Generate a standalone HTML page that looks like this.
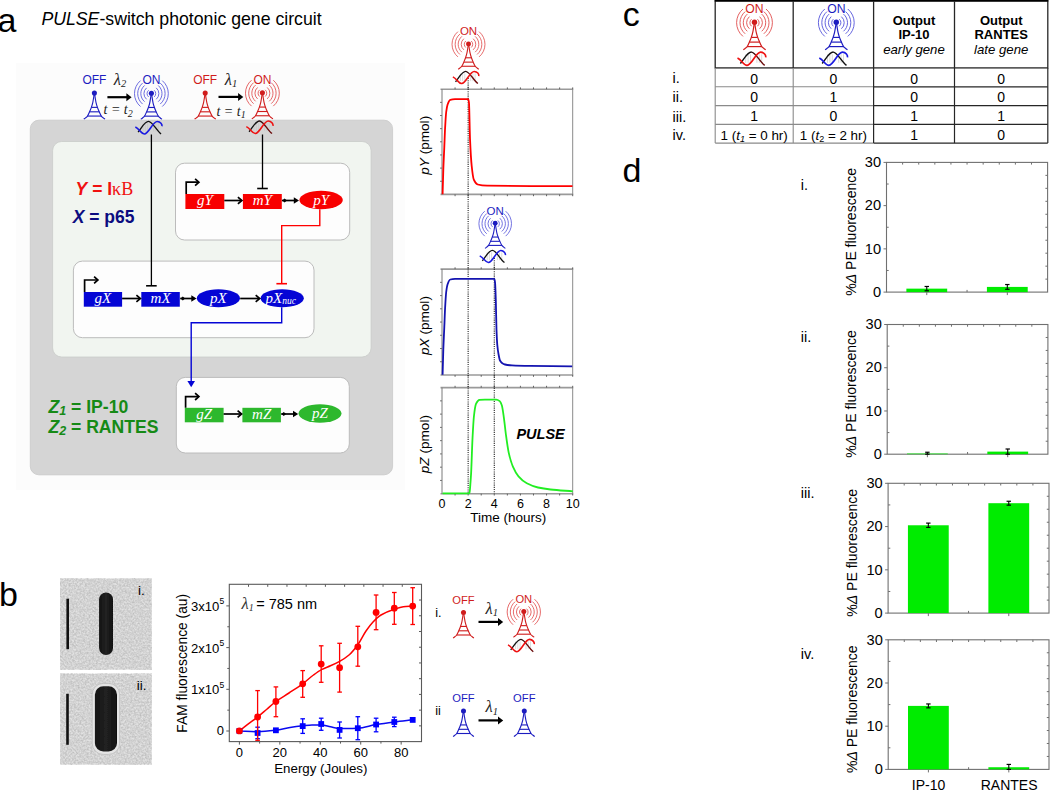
<!DOCTYPE html>
<html><head><meta charset="utf-8"><style>
html,body{margin:0;padding:0;background:#fff;overflow:hidden;}
svg{display:block;}
</style></head><body>
<svg width="1050" height="790" viewBox="0 0 1050 790">
<rect width="1050" height="790" fill="#fff"/>
<rect x="16" y="63" width="389" height="427" fill="#fcfcfc"/>
<text x="-2.6" y="31.6" font-family="Liberation Sans" font-size="34" fill="#000" text-anchor="start" font-weight="normal" font-style="normal" >a</text>
<text x="41.4" y="25" font-family="Liberation Sans" font-size="17.7" fill="#000"><tspan font-style="italic">PULSE</tspan>-switch photonic gene circuit</text>
<rect x="30.3" y="120.2" width="362.3" height="354.6" rx="8.5" fill="#d5d5d5" stroke="#c8c8c8" stroke-width="0.8"/>
<rect x="52.6" y="141.5" width="318.5" height="215.5" rx="9" fill="#f1f5f0" stroke="#c9ccc9" stroke-width="0.8"/>
<rect x="175.5" y="163.2" width="174.2" height="76.8" rx="9" fill="#fdfdfd" stroke="#bcbcbc" stroke-width="1"/>
<rect x="73.4" y="261.1" width="240.6" height="76.6" rx="9" fill="#fdfdfd" stroke="#bcbcbc" stroke-width="1"/>
<rect x="176.3" y="377.4" width="173" height="75.6" rx="9" fill="#fdfdfd" stroke="#bcbcbc" stroke-width="1"/>
<text x="75.6" y="195.3" font-family="Liberation Sans" font-size="17.5" font-weight="bold" fill="#f01010"><tspan font-style="italic">Y</tspan> = I<tspan font-family="Liberation Serif" font-weight="normal" font-size="18">κB</tspan></text>
<text x="72.7" y="223.2" font-family="Liberation Sans" font-size="17.5" font-weight="bold" fill="#0c0c80"><tspan font-style="italic">X</tspan> = p65</text>
<text x="48.4" y="412.6" font-family="Liberation Sans" font-size="17.6" font-weight="bold" fill="#168a16"><tspan font-style="italic">Z</tspan><tspan font-style="italic" font-size="12.5" dy="2.6">1</tspan><tspan dy="-2.6"> = IP-10</tspan></text>
<text x="48.4" y="432.8" font-family="Liberation Sans" font-size="17.6" font-weight="bold" fill="#168a16"><tspan font-style="italic">Z</tspan><tspan font-style="italic" font-size="12.5" dy="2.6">2</tspan><tspan dy="-2.6"> = RANTES</tspan></text>
<rect x="185.4" y="194" width="38.9" height="15" fill="#f80000"/>
<text x="204.85" y="205.4" font-family="Liberation Serif" font-style="italic" font-size="15" fill="#fff" text-anchor="middle">gY</text>
<rect x="242.9" y="194" width="38.9" height="15" fill="#f80000"/>
<text x="262.35" y="205.4" font-family="Liberation Serif" font-style="italic" font-size="15" fill="#fff" text-anchor="middle">mY</text>
<ellipse cx="321.1" cy="200" rx="21.7" ry="9.3" fill="#f80000"/>
<text x="321.1" y="204.6" font-family="Liberation Serif" font-style="italic" font-size="15" fill="#fff" text-anchor="middle">pY</text>
<line x1="224.3" y1="200.5" x2="241.5" y2="200.5" stroke="#000" stroke-width="1.7" />
<path d="M237.9,197.1 L241.9,200.5 L237.9,203.9" fill="none" stroke="#000" stroke-width="1.7"/>
<line x1="282" y1="200.5" x2="296" y2="200.5" stroke="#000" stroke-width="1.7" />
<path d="M293.8,197.3 L299,200.5 L293.8,203.7 Z" fill="#000"/>
<path d="M282.3,200.5 L284.6,198.6 L286.9,200.5 L284.6,202.4 Z" fill="#000"/>
<path d="M186.2,194 L186.2,182.2 L198.5,182.2" fill="none" stroke="#000" stroke-width="1.7"/>
<path d="M195.1,178.8 L198.9,182.2 L195.1,185.6" fill="none" stroke="#000" stroke-width="1.7"/>
<rect x="83.8" y="292" width="38.3" height="14.7" fill="#0505d5"/>
<text x="102.95" y="303.1" font-family="Liberation Serif" font-style="italic" font-size="15" fill="#fff" text-anchor="middle">gX</text>
<rect x="141.3" y="292" width="38.5" height="14.7" fill="#0505d5"/>
<text x="160.55" y="303.1" font-family="Liberation Serif" font-style="italic" font-size="15" fill="#fff" text-anchor="middle">mX</text>
<ellipse cx="218.4" cy="298.3" rx="21.6" ry="9" fill="#0505d5"/>
<text x="218.4" y="302.9" font-family="Liberation Serif" font-style="italic" font-size="15" fill="#fff" text-anchor="middle">pX</text>
<ellipse cx="282.2" cy="298.3" rx="21.6" ry="9" fill="#0505d5"/>
<text x="265.5" y="302.9" font-family="Liberation Serif" font-style="italic" font-size="15" fill="#fff">pX<tspan font-size="9.5" dy="1.5">nuc</tspan></text>
<line x1="122.1" y1="298.5" x2="140" y2="298.5" stroke="#000" stroke-width="1.7" />
<path d="M136.4,295.1 L140.4,298.5 L136.4,301.9" fill="none" stroke="#000" stroke-width="1.7"/>
<line x1="180.2" y1="298.5" x2="193.5" y2="298.5" stroke="#000" stroke-width="1.7" />
<path d="M191.3,295.3 L196.5,298.5 L191.3,301.7 Z" fill="#000"/>
<path d="M180.5,298.5 L182.8,296.6 L185.1,298.5 L182.8,300.4 Z" fill="#000"/>
<line x1="240.2" y1="298.5" x2="259.3" y2="298.5" stroke="#000" stroke-width="1.7" />
<path d="M255.7,295.1 L259.7,298.5 L255.7,301.9" fill="none" stroke="#000" stroke-width="1.7"/>
<path d="M84.6,292 L84.6,280 L97.5,280" fill="none" stroke="#000" stroke-width="1.7"/>
<path d="M94.1,276.6 L97.9,280 L94.1,283.4" fill="none" stroke="#000" stroke-width="1.7"/>
<rect x="184.8" y="407.8" width="38.8" height="14.5" fill="#2db82d"/>
<text x="204.2" y="418.7" font-family="Liberation Serif" font-style="italic" font-size="15" fill="#fff" text-anchor="middle">gZ</text>
<rect x="242.4" y="407.8" width="38.5" height="14.5" fill="#2db82d"/>
<text x="261.65" y="418.7" font-family="Liberation Serif" font-style="italic" font-size="15" fill="#fff" text-anchor="middle">mZ</text>
<ellipse cx="320" cy="413.5" rx="21.5" ry="9.2" fill="#2db82d"/>
<text x="320" y="418.1" font-family="Liberation Serif" font-style="italic" font-size="15" fill="#fff" text-anchor="middle">pZ</text>
<line x1="223.6" y1="414" x2="241.2" y2="414" stroke="#000" stroke-width="1.7" />
<path d="M237.6,410.6 L241.6,414 L237.6,417.4" fill="none" stroke="#000" stroke-width="1.7"/>
<line x1="281.2" y1="414" x2="295.2" y2="414" stroke="#000" stroke-width="1.7" />
<path d="M293,410.8 L298.2,414 L293,417.2 Z" fill="#000"/>
<path d="M281.5,414 L283.8,412.1 L286.1,414 L283.8,415.9 Z" fill="#000"/>
<path d="M185.6,407.8 L185.6,396.6 L198.5,396.6" fill="none" stroke="#000" stroke-width="1.7"/>
<path d="M195.1,393.2 L198.9,396.6 L195.1,400" fill="none" stroke="#000" stroke-width="1.7"/>
<line x1="151.4" y1="134.5" x2="151.4" y2="285.8" stroke="#000" stroke-width="1.3" />
<line x1="146.1" y1="285.8" x2="156.7" y2="285.8" stroke="#000" stroke-width="1.6" />
<line x1="262.5" y1="134.5" x2="262.5" y2="188.5" stroke="#000" stroke-width="1.3" />
<line x1="257.2" y1="188.5" x2="267.8" y2="188.5" stroke="#000" stroke-width="1.6" />
<path d="M319.8,209.3 L319.8,225.6 L281.7,225.6 L281.7,283.7" fill="none" stroke="#f00" stroke-width="1.4"/>
<line x1="276.4" y1="283.7" x2="287" y2="283.7" stroke="#f00" stroke-width="1.6" />
<path d="M281.7,307.3 L281.7,322.8 L191.2,322.8 L191.2,383" fill="none" stroke="#0505d5" stroke-width="1.4"/>
<path d="M187.4,381 L191.2,387.3 L195,381 Z" fill="#0505d5"/>
<path d="M94.4,93.1 C94.27,93.89 93.88,96.19 93.6,97.82 C93.31,99.46 93.07,101.34 92.7,102.93 C92.33,104.52 91.9,105.89 91.38,107.37 C90.86,108.85 90.23,110.36 89.58,111.81 C88.93,113.26 88.18,115.06 87.5,116.06 C86.82,117.07 86.13,117.35 85.52,117.86 C84.9,118.36 84.1,118.88 83.82,119.09" fill="none" stroke="#1c1cc0" stroke-width="1.13"/>
<path d="M94.4,93.1 C94.53,93.89 94.92,96.19 95.2,97.82 C95.49,99.46 95.73,101.34 96.1,102.93 C96.47,104.52 96.9,105.89 97.42,107.37 C97.94,108.85 98.57,110.36 99.22,111.81 C99.87,113.26 100.62,115.06 101.3,116.06 C101.98,117.07 102.67,117.35 103.28,117.86 C103.9,118.36 104.7,118.88 104.98,119.09" fill="none" stroke="#1c1cc0" stroke-width="1.13"/>
<line x1="91.38" y1="107.37" x2="97.42" y2="107.37" stroke="#1c1cc0" stroke-width="1.13"/>
<line x1="89.58" y1="111.81" x2="99.22" y2="111.81" stroke="#1c1cc0" stroke-width="1.13"/>
<line x1="87.5" y1="116.06" x2="101.3" y2="116.06" stroke="#1c1cc0" stroke-width="1.13"/>
<circle cx="94.4" cy="93.1" r="2.55" fill="#1c1cc0"/>
<text x="94.4" y="84.12" font-family="Liberation Sans" font-size="12" fill="#1c1cc0" text-anchor="middle">OFF</text>
<path d="M151.4,93.2 C151.27,93.99 150.88,96.29 150.6,97.92 C150.31,99.56 150.07,101.44 149.7,103.03 C149.33,104.62 148.9,105.99 148.38,107.47 C147.86,108.95 147.23,110.46 146.58,111.91 C145.93,113.36 145.18,115.16 144.5,116.16 C143.82,117.17 143.13,117.45 142.52,117.96 C141.9,118.46 141.1,118.98 140.82,119.19" fill="none" stroke="#1c1cc0" stroke-width="1.13"/>
<path d="M151.4,93.2 C151.53,93.99 151.92,96.29 152.2,97.92 C152.49,99.56 152.73,101.44 153.1,103.03 C153.47,104.62 153.9,105.99 154.42,107.47 C154.94,108.95 155.57,110.46 156.22,111.91 C156.87,113.36 157.62,115.16 158.3,116.16 C158.98,117.17 159.67,117.45 160.28,117.96 C160.9,118.46 161.7,118.98 161.98,119.19" fill="none" stroke="#1c1cc0" stroke-width="1.13"/>
<line x1="148.38" y1="107.47" x2="154.42" y2="107.47" stroke="#1c1cc0" stroke-width="1.13"/>
<line x1="146.58" y1="111.91" x2="156.22" y2="111.91" stroke="#1c1cc0" stroke-width="1.13"/>
<line x1="144.5" y1="116.16" x2="158.3" y2="116.16" stroke="#1c1cc0" stroke-width="1.13"/>
<circle cx="151.4" cy="93.2" r="2.55" fill="#1c1cc0"/>
<path d="M148.61,90.25 A4.35,4.35 0 0 0 148.61,96.91" fill="none" stroke="#5c5cdc" stroke-width="0.9"/>
<path d="M154.19,90.25 A4.35,4.35 0 0 1 154.19,96.91" fill="none" stroke="#5c5cdc" stroke-width="0.9"/>
<path d="M146.6,87.86 A7.47,7.47 0 0 0 146.6,99.3" fill="none" stroke="#5c5cdc" stroke-width="0.9"/>
<path d="M156.2,87.86 A7.47,7.47 0 0 1 156.2,99.3" fill="none" stroke="#5c5cdc" stroke-width="0.9"/>
<path d="M144.6,85.47 A10.58,10.58 0 0 0 144.6,101.69" fill="none" stroke="#5c5cdc" stroke-width="0.9"/>
<path d="M158.2,85.47 A10.58,10.58 0 0 1 158.2,101.69" fill="none" stroke="#5c5cdc" stroke-width="0.9"/>
<path d="M142.59,83.08 A13.7,13.7 0 0 0 142.59,104.07" fill="none" stroke="#5c5cdc" stroke-width="0.9"/>
<path d="M160.21,83.08 A13.7,13.7 0 0 1 160.21,104.07" fill="none" stroke="#5c5cdc" stroke-width="0.9"/>
<path d="M140.53,80.62 A16.92,16.92 0 0 0 140.53,106.54" fill="none" stroke="#5c5cdc" stroke-width="0.9"/>
<path d="M162.27,80.62 A16.92,16.92 0 0 1 162.27,106.54" fill="none" stroke="#5c5cdc" stroke-width="0.9"/>
<text x="151.4" y="84.22" font-family="Liberation Sans" font-size="12" fill="#1c1cc0" text-anchor="middle">ON</text>
<line x1="143.08" y1="123.44" x2="143.08" y2="131.47" stroke="#c4c4c4" stroke-width="0.61"/>
<line x1="145.35" y1="123.44" x2="145.35" y2="131.47" stroke="#c4c4c4" stroke-width="0.61"/>
<line x1="147.62" y1="123.44" x2="147.62" y2="131.47" stroke="#c4c4c4" stroke-width="0.61"/>
<line x1="153.67" y1="123.44" x2="153.67" y2="131.47" stroke="#c4c4c4" stroke-width="0.61"/>
<line x1="155.94" y1="123.44" x2="155.94" y2="131.47" stroke="#c4c4c4" stroke-width="0.61"/>
<line x1="158.2" y1="123.44" x2="158.2" y2="131.47" stroke="#c4c4c4" stroke-width="0.61"/>
<defs><linearGradient id="dg64" x1="0" x2="1" y1="0" y2="0"><stop offset="0.35" stop-color="#111"/><stop offset="0.75" stop-color="#111"/></linearGradient></defs>
<path d="M138.08,132.13 C142.33,126.75 144.88,121.27 148.56,121.36 C152.34,121.46 156.5,130.53 161.04,133.93" fill="none" stroke="url(#dg64)" stroke-width="1.37"/>
<path d="M135.34,127.03 C139.49,128.92 141.19,134.12 144.41,133.93 C148.94,133.65 152.72,121.27 157.26,121.46 C160.47,121.55 162.36,124.39 161.98,126.28" fill="none" stroke="#1a1ae0" stroke-width="1.61"/>
<path d="M205.2,93.1 C205.07,93.89 204.68,96.19 204.4,97.82 C204.11,99.46 203.87,101.34 203.5,102.93 C203.13,104.52 202.7,105.89 202.18,107.37 C201.66,108.85 201.03,110.36 200.38,111.81 C199.73,113.26 198.98,115.06 198.3,116.06 C197.62,117.07 196.93,117.35 196.32,117.86 C195.7,118.36 194.9,118.88 194.62,119.09" fill="none" stroke="#d01c1c" stroke-width="1.13"/>
<path d="M205.2,93.1 C205.33,93.89 205.72,96.19 206,97.82 C206.29,99.46 206.53,101.34 206.9,102.93 C207.27,104.52 207.7,105.89 208.22,107.37 C208.74,108.85 209.37,110.36 210.02,111.81 C210.67,113.26 211.42,115.06 212.1,116.06 C212.78,117.07 213.47,117.35 214.08,117.86 C214.7,118.36 215.5,118.88 215.78,119.09" fill="none" stroke="#d01c1c" stroke-width="1.13"/>
<line x1="202.18" y1="107.37" x2="208.22" y2="107.37" stroke="#d01c1c" stroke-width="1.13"/>
<line x1="200.38" y1="111.81" x2="210.02" y2="111.81" stroke="#d01c1c" stroke-width="1.13"/>
<line x1="198.3" y1="116.06" x2="212.1" y2="116.06" stroke="#d01c1c" stroke-width="1.13"/>
<circle cx="205.2" cy="93.1" r="2.55" fill="#d01c1c"/>
<text x="205.2" y="84.12" font-family="Liberation Sans" font-size="12" fill="#d01c1c" text-anchor="middle">OFF</text>
<path d="M262.4,92.8 C262.27,93.59 261.88,95.89 261.6,97.52 C261.31,99.16 261.07,101.04 260.7,102.63 C260.33,104.22 259.9,105.59 259.38,107.07 C258.86,108.55 258.23,110.06 257.58,111.51 C256.93,112.96 256.18,114.76 255.5,115.76 C254.82,116.77 254.13,117.05 253.52,117.56 C252.9,118.06 252.1,118.58 251.82,118.79" fill="none" stroke="#d01c1c" stroke-width="1.13"/>
<path d="M262.4,92.8 C262.53,93.59 262.92,95.89 263.2,97.52 C263.49,99.16 263.73,101.04 264.1,102.63 C264.47,104.22 264.9,105.59 265.42,107.07 C265.94,108.55 266.57,110.06 267.22,111.51 C267.87,112.96 268.62,114.76 269.3,115.76 C269.98,116.77 270.67,117.05 271.28,117.56 C271.9,118.06 272.7,118.58 272.98,118.79" fill="none" stroke="#d01c1c" stroke-width="1.13"/>
<line x1="259.38" y1="107.07" x2="265.42" y2="107.07" stroke="#d01c1c" stroke-width="1.13"/>
<line x1="257.58" y1="111.51" x2="267.22" y2="111.51" stroke="#d01c1c" stroke-width="1.13"/>
<line x1="255.5" y1="115.76" x2="269.3" y2="115.76" stroke="#d01c1c" stroke-width="1.13"/>
<circle cx="262.4" cy="92.8" r="2.55" fill="#d01c1c"/>
<path d="M259.61,89.85 A4.35,4.35 0 0 0 259.61,96.51" fill="none" stroke="#e25555" stroke-width="0.9"/>
<path d="M265.19,89.85 A4.35,4.35 0 0 1 265.19,96.51" fill="none" stroke="#e25555" stroke-width="0.9"/>
<path d="M257.6,87.46 A7.47,7.47 0 0 0 257.6,98.9" fill="none" stroke="#e25555" stroke-width="0.9"/>
<path d="M267.2,87.46 A7.47,7.47 0 0 1 267.2,98.9" fill="none" stroke="#e25555" stroke-width="0.9"/>
<path d="M255.6,85.07 A10.58,10.58 0 0 0 255.6,101.29" fill="none" stroke="#e25555" stroke-width="0.9"/>
<path d="M269.2,85.07 A10.58,10.58 0 0 1 269.2,101.29" fill="none" stroke="#e25555" stroke-width="0.9"/>
<path d="M253.59,82.68 A13.7,13.7 0 0 0 253.59,103.67" fill="none" stroke="#e25555" stroke-width="0.9"/>
<path d="M271.21,82.68 A13.7,13.7 0 0 1 271.21,103.67" fill="none" stroke="#e25555" stroke-width="0.9"/>
<path d="M251.53,80.22 A16.92,16.92 0 0 0 251.53,106.14" fill="none" stroke="#e25555" stroke-width="0.9"/>
<path d="M273.27,80.22 A16.92,16.92 0 0 1 273.27,106.14" fill="none" stroke="#e25555" stroke-width="0.9"/>
<text x="262.4" y="83.82" font-family="Liberation Sans" font-size="12" fill="#d01c1c" text-anchor="middle">ON</text>
<line x1="254.08" y1="123.04" x2="254.08" y2="131.07" stroke="#c4c4c4" stroke-width="0.61"/>
<line x1="256.35" y1="123.04" x2="256.35" y2="131.07" stroke="#c4c4c4" stroke-width="0.61"/>
<line x1="258.62" y1="123.04" x2="258.62" y2="131.07" stroke="#c4c4c4" stroke-width="0.61"/>
<line x1="264.67" y1="123.04" x2="264.67" y2="131.07" stroke="#c4c4c4" stroke-width="0.61"/>
<line x1="266.94" y1="123.04" x2="266.94" y2="131.07" stroke="#c4c4c4" stroke-width="0.61"/>
<line x1="269.2" y1="123.04" x2="269.2" y2="131.07" stroke="#c4c4c4" stroke-width="0.61"/>
<defs><linearGradient id="dg66" x1="0" x2="1" y1="0" y2="0"><stop offset="0.35" stop-color="#111"/><stop offset="0.75" stop-color="#6a0a0a"/></linearGradient></defs>
<path d="M249.08,131.73 C253.33,126.35 255.88,120.87 259.56,120.96 C263.34,121.06 267.5,130.13 272.04,133.53" fill="none" stroke="url(#dg66)" stroke-width="1.37"/>
<path d="M246.33,126.63 C250.49,128.52 252.19,133.72 255.41,133.53 C259.94,133.25 263.72,120.87 268.26,121.06 C271.47,121.15 273.36,123.98 272.98,125.88" fill="none" stroke="#ee1111" stroke-width="1.61"/>
<line x1="107.4" y1="97.2" x2="127.6" y2="97.2" stroke="#000" stroke-width="2.2" />
<path d="M126.4,93.2 L131.6,97.2 L126.4,101.2 Z" fill="#000"/>
<line x1="218.5" y1="96.9" x2="239.3" y2="96.9" stroke="#000" stroke-width="2.2" />
<path d="M238.1,92.9 L243.3,96.9 L238.1,100.9 Z" fill="#000"/>
<text x="113.8" y="84.8" font-family="Liberation Serif" font-style="italic" font-size="16.5" fill="#222">λ<tspan font-size="10.5" dy="2.3">2</tspan></text>
<text x="224.8" y="84.6" font-family="Liberation Serif" font-style="italic" font-size="16.5" fill="#222">λ<tspan font-size="10.5" dy="2.3">1</tspan></text>
<text x="103.5" y="114.1" font-family="Liberation Serif" font-style="italic" font-size="14" fill="#222">t = t<tspan font-size="10" dy="2.5">2</tspan></text>
<text x="216.4" y="115.6" font-family="Liberation Serif" font-style="italic" font-size="14" fill="#222">t = t<tspan font-size="10" dy="2.5">1</tspan></text>
<line x1="440.5" y1="194.4" x2="573.2" y2="194.4" stroke="#9a9a9a" stroke-width="1.6" />
<line x1="440.5" y1="89.2" x2="573.2" y2="89.2" stroke="#9a9a9a" stroke-width="1.6" />
<line x1="442" y1="89.2" x2="442" y2="194.4" stroke="#7a7a7a" stroke-width="1.0" />
<line x1="572.7" y1="89.2" x2="572.7" y2="194.4" stroke="#8a8a8a" stroke-width="1.0" />
<line x1="455.07" y1="194.4" x2="455.07" y2="196.2" stroke="#555" stroke-width="0.9" />
<line x1="455.07" y1="89.2" x2="455.07" y2="87.4" stroke="#555" stroke-width="0.9" />
<line x1="468.14" y1="194.4" x2="468.14" y2="196.2" stroke="#555" stroke-width="0.9" />
<line x1="468.14" y1="89.2" x2="468.14" y2="87.4" stroke="#555" stroke-width="0.9" />
<line x1="481.21" y1="194.4" x2="481.21" y2="196.2" stroke="#555" stroke-width="0.9" />
<line x1="481.21" y1="89.2" x2="481.21" y2="87.4" stroke="#555" stroke-width="0.9" />
<line x1="494.28" y1="194.4" x2="494.28" y2="196.2" stroke="#555" stroke-width="0.9" />
<line x1="494.28" y1="89.2" x2="494.28" y2="87.4" stroke="#555" stroke-width="0.9" />
<line x1="507.35" y1="194.4" x2="507.35" y2="196.2" stroke="#555" stroke-width="0.9" />
<line x1="507.35" y1="89.2" x2="507.35" y2="87.4" stroke="#555" stroke-width="0.9" />
<line x1="520.42" y1="194.4" x2="520.42" y2="196.2" stroke="#555" stroke-width="0.9" />
<line x1="520.42" y1="89.2" x2="520.42" y2="87.4" stroke="#555" stroke-width="0.9" />
<line x1="533.49" y1="194.4" x2="533.49" y2="196.2" stroke="#555" stroke-width="0.9" />
<line x1="533.49" y1="89.2" x2="533.49" y2="87.4" stroke="#555" stroke-width="0.9" />
<line x1="546.56" y1="194.4" x2="546.56" y2="196.2" stroke="#555" stroke-width="0.9" />
<line x1="546.56" y1="89.2" x2="546.56" y2="87.4" stroke="#555" stroke-width="0.9" />
<line x1="559.63" y1="194.4" x2="559.63" y2="196.2" stroke="#555" stroke-width="0.9" />
<line x1="559.63" y1="89.2" x2="559.63" y2="87.4" stroke="#555" stroke-width="0.9" />
<line x1="572.7" y1="194.4" x2="572.7" y2="196.2" stroke="#555" stroke-width="0.9" />
<line x1="572.7" y1="89.2" x2="572.7" y2="87.4" stroke="#555" stroke-width="0.9" />
<line x1="442" y1="181.25" x2="440" y2="181.25" stroke="#666" stroke-width="0.9" />
<line x1="442" y1="168.1" x2="440" y2="168.1" stroke="#666" stroke-width="0.9" />
<line x1="442" y1="154.95" x2="440" y2="154.95" stroke="#666" stroke-width="0.9" />
<line x1="442" y1="141.8" x2="440" y2="141.8" stroke="#666" stroke-width="0.9" />
<line x1="442" y1="128.65" x2="440" y2="128.65" stroke="#666" stroke-width="0.9" />
<line x1="442" y1="115.5" x2="440" y2="115.5" stroke="#666" stroke-width="0.9" />
<line x1="442" y1="102.35" x2="440" y2="102.35" stroke="#666" stroke-width="0.9" />
<text transform="translate(429.3,145.3) rotate(-90)" font-family="Liberation Sans" font-size="13.6" fill="#000" text-anchor="middle"><tspan font-style="italic">pY</tspan> (pmol)</text>
<line x1="440.5" y1="375" x2="573.2" y2="375" stroke="#9a9a9a" stroke-width="1.6" />
<line x1="440.5" y1="269.1" x2="573.2" y2="269.1" stroke="#9a9a9a" stroke-width="1.6" />
<line x1="442" y1="269.1" x2="442" y2="375" stroke="#7a7a7a" stroke-width="1.0" />
<line x1="572.7" y1="269.1" x2="572.7" y2="375" stroke="#8a8a8a" stroke-width="1.0" />
<line x1="455.07" y1="375" x2="455.07" y2="376.8" stroke="#555" stroke-width="0.9" />
<line x1="455.07" y1="269.1" x2="455.07" y2="267.3" stroke="#555" stroke-width="0.9" />
<line x1="468.14" y1="375" x2="468.14" y2="376.8" stroke="#555" stroke-width="0.9" />
<line x1="468.14" y1="269.1" x2="468.14" y2="267.3" stroke="#555" stroke-width="0.9" />
<line x1="481.21" y1="375" x2="481.21" y2="376.8" stroke="#555" stroke-width="0.9" />
<line x1="481.21" y1="269.1" x2="481.21" y2="267.3" stroke="#555" stroke-width="0.9" />
<line x1="494.28" y1="375" x2="494.28" y2="376.8" stroke="#555" stroke-width="0.9" />
<line x1="494.28" y1="269.1" x2="494.28" y2="267.3" stroke="#555" stroke-width="0.9" />
<line x1="507.35" y1="375" x2="507.35" y2="376.8" stroke="#555" stroke-width="0.9" />
<line x1="507.35" y1="269.1" x2="507.35" y2="267.3" stroke="#555" stroke-width="0.9" />
<line x1="520.42" y1="375" x2="520.42" y2="376.8" stroke="#555" stroke-width="0.9" />
<line x1="520.42" y1="269.1" x2="520.42" y2="267.3" stroke="#555" stroke-width="0.9" />
<line x1="533.49" y1="375" x2="533.49" y2="376.8" stroke="#555" stroke-width="0.9" />
<line x1="533.49" y1="269.1" x2="533.49" y2="267.3" stroke="#555" stroke-width="0.9" />
<line x1="546.56" y1="375" x2="546.56" y2="376.8" stroke="#555" stroke-width="0.9" />
<line x1="546.56" y1="269.1" x2="546.56" y2="267.3" stroke="#555" stroke-width="0.9" />
<line x1="559.63" y1="375" x2="559.63" y2="376.8" stroke="#555" stroke-width="0.9" />
<line x1="559.63" y1="269.1" x2="559.63" y2="267.3" stroke="#555" stroke-width="0.9" />
<line x1="572.7" y1="375" x2="572.7" y2="376.8" stroke="#555" stroke-width="0.9" />
<line x1="572.7" y1="269.1" x2="572.7" y2="267.3" stroke="#555" stroke-width="0.9" />
<line x1="442" y1="361.76" x2="440" y2="361.76" stroke="#666" stroke-width="0.9" />
<line x1="442" y1="348.52" x2="440" y2="348.52" stroke="#666" stroke-width="0.9" />
<line x1="442" y1="335.29" x2="440" y2="335.29" stroke="#666" stroke-width="0.9" />
<line x1="442" y1="322.05" x2="440" y2="322.05" stroke="#666" stroke-width="0.9" />
<line x1="442" y1="308.81" x2="440" y2="308.81" stroke="#666" stroke-width="0.9" />
<line x1="442" y1="295.58" x2="440" y2="295.58" stroke="#666" stroke-width="0.9" />
<line x1="442" y1="282.34" x2="440" y2="282.34" stroke="#666" stroke-width="0.9" />
<text transform="translate(429.3,325.55) rotate(-90)" font-family="Liberation Sans" font-size="13.6" fill="#000" text-anchor="middle"><tspan font-style="italic">pX</tspan> (pmol)</text>
<line x1="440.5" y1="493.7" x2="573.2" y2="493.7" stroke="#9a9a9a" stroke-width="1.6" />
<line x1="440.5" y1="387.6" x2="573.2" y2="387.6" stroke="#9a9a9a" stroke-width="1.6" />
<line x1="442" y1="387.6" x2="442" y2="493.7" stroke="#7a7a7a" stroke-width="1.0" />
<line x1="572.7" y1="387.6" x2="572.7" y2="493.7" stroke="#8a8a8a" stroke-width="1.0" />
<line x1="455.07" y1="493.7" x2="455.07" y2="495.5" stroke="#555" stroke-width="0.9" />
<line x1="455.07" y1="387.6" x2="455.07" y2="385.8" stroke="#555" stroke-width="0.9" />
<line x1="468.14" y1="493.7" x2="468.14" y2="495.5" stroke="#555" stroke-width="0.9" />
<line x1="468.14" y1="387.6" x2="468.14" y2="385.8" stroke="#555" stroke-width="0.9" />
<line x1="481.21" y1="493.7" x2="481.21" y2="495.5" stroke="#555" stroke-width="0.9" />
<line x1="481.21" y1="387.6" x2="481.21" y2="385.8" stroke="#555" stroke-width="0.9" />
<line x1="494.28" y1="493.7" x2="494.28" y2="495.5" stroke="#555" stroke-width="0.9" />
<line x1="494.28" y1="387.6" x2="494.28" y2="385.8" stroke="#555" stroke-width="0.9" />
<line x1="507.35" y1="493.7" x2="507.35" y2="495.5" stroke="#555" stroke-width="0.9" />
<line x1="507.35" y1="387.6" x2="507.35" y2="385.8" stroke="#555" stroke-width="0.9" />
<line x1="520.42" y1="493.7" x2="520.42" y2="495.5" stroke="#555" stroke-width="0.9" />
<line x1="520.42" y1="387.6" x2="520.42" y2="385.8" stroke="#555" stroke-width="0.9" />
<line x1="533.49" y1="493.7" x2="533.49" y2="495.5" stroke="#555" stroke-width="0.9" />
<line x1="533.49" y1="387.6" x2="533.49" y2="385.8" stroke="#555" stroke-width="0.9" />
<line x1="546.56" y1="493.7" x2="546.56" y2="495.5" stroke="#555" stroke-width="0.9" />
<line x1="546.56" y1="387.6" x2="546.56" y2="385.8" stroke="#555" stroke-width="0.9" />
<line x1="559.63" y1="493.7" x2="559.63" y2="495.5" stroke="#555" stroke-width="0.9" />
<line x1="559.63" y1="387.6" x2="559.63" y2="385.8" stroke="#555" stroke-width="0.9" />
<line x1="572.7" y1="493.7" x2="572.7" y2="495.5" stroke="#555" stroke-width="0.9" />
<line x1="572.7" y1="387.6" x2="572.7" y2="385.8" stroke="#555" stroke-width="0.9" />
<line x1="442" y1="480.44" x2="440" y2="480.44" stroke="#666" stroke-width="0.9" />
<line x1="442" y1="467.18" x2="440" y2="467.18" stroke="#666" stroke-width="0.9" />
<line x1="442" y1="453.91" x2="440" y2="453.91" stroke="#666" stroke-width="0.9" />
<line x1="442" y1="440.65" x2="440" y2="440.65" stroke="#666" stroke-width="0.9" />
<line x1="442" y1="427.39" x2="440" y2="427.39" stroke="#666" stroke-width="0.9" />
<line x1="442" y1="414.12" x2="440" y2="414.12" stroke="#666" stroke-width="0.9" />
<line x1="442" y1="400.86" x2="440" y2="400.86" stroke="#666" stroke-width="0.9" />
<text transform="translate(429.3,444.15) rotate(-90)" font-family="Liberation Sans" font-size="13.6" fill="#000" text-anchor="middle"><tspan font-style="italic">pZ</tspan> (pmol)</text>
<line x1="468.14" y1="78" x2="468.14" y2="493.7" stroke="#222" stroke-width="1.1" stroke-dasharray="1.1,1.1"/>
<line x1="494.28" y1="258" x2="494.28" y2="493.7" stroke="#222" stroke-width="1.1" stroke-dasharray="1.1,1.1"/>
<path d="M442.6,194.3 C442.83,186.2 443.07,176.52 443.3,170 C443.63,160.69 443.97,154.9 444.3,147.1 C444.57,140.86 444.83,132.88 445.1,128 C445.47,121.29 445.83,114.93 446.2,112 C446.67,108.28 447.13,105.8 447.6,104.5 C448.5,102 449.4,100.03 450.3,99.8 C451.87,99.4 453.43,99.23 455,99.2 C459.43,99.13 463.87,99.1 468.3,99.1 C468.53,99.1 468.77,100.84 469,103 C469.33,106.08 469.67,130.95 470,138.6 C470.57,151.6 471.13,160.66 471.7,166 C472.4,172.6 473.1,178.14 473.8,179.7 C475.1,182.59 476.4,184.16 477.7,184.5 C480.83,185.32 483.97,185.65 487.1,185.7 C515.57,186.12 544.03,186.03 572.5,186.2" fill="none" stroke="#f00" stroke-width="1.8"/>
<path d="M442.6,374.8 C442.83,366.53 443.07,356.59 443.3,350 C443.63,340.58 443.97,334.79 444.3,327 C444.57,320.76 444.83,312.87 445.1,308 C445.47,301.3 445.83,295.01 446.2,292 C446.67,288.17 447.13,285.51 447.6,284.2 C448.5,281.67 449.4,279.73 450.3,279.5 C451.87,279.1 453.43,278.91 455,278.9 C468.13,278.81 481.27,278.8 494.4,278.8 C494.63,278.8 494.87,280.75 495.1,283 C495.33,285.25 495.57,292.77 495.8,300 C496.03,307.23 496.27,323.86 496.5,330 C496.77,337.02 497.03,342.06 497.3,345 C497.7,349.41 498.1,351.78 498.5,354 C499,356.77 499.5,359.5 500,360.5 C500.67,361.83 501.33,362.51 502,363 C503,363.74 504,364.28 505,364.5 C507.33,365.02 509.67,365.28 512,365.4 C518,365.7 524,365.81 530,365.9 C544.07,366.11 558.13,366.17 572.2,366.3" fill="none" stroke="#1414b0" stroke-width="1.8"/>
<path d="M442.6,493.3 C451.57,493.3 460.53,493.3 469.5,493.3 C469.77,493.3 470.03,488.21 470.3,485 C470.57,481.79 470.83,478.24 471.1,473.5 C471.57,465.2 472.03,447.74 472.5,438.7 C472.97,429.66 473.43,420.69 473.9,416.5 C474.6,410.22 475.3,405.32 476,403.9 C477.17,401.53 478.33,400.03 479.5,399.9 C481.33,399.7 483.17,399.6 485,399.6 C488.73,399.6 492.47,399.6 496.2,399.6 C497.37,399.6 498.53,400.23 499.7,401.1 C500.4,401.62 501.1,403.2 501.8,405.3 C502.5,407.4 503.2,412.93 503.9,417.8 C504.57,422.44 505.23,429.61 505.9,434.5 C506.83,441.35 507.77,448.41 508.7,452.6 C510.1,458.89 511.5,463.36 512.9,466.6 C514.77,470.92 516.63,474.13 518.5,476.3 C521.27,479.51 524.03,481.84 526.8,483.3 C530.53,485.28 534.27,486.66 538,487.5 C542.17,488.44 546.33,489.04 550.5,489.5 C557.93,490.32 565.37,490.7 572.8,491.3" fill="none" stroke="#22ee22" stroke-width="1.8"/>
<text x="442" y="508.2" font-family="Liberation Sans" font-size="12.5" fill="#000" text-anchor="middle" font-weight="normal" font-style="normal" >0</text>
<text x="468.14" y="508.2" font-family="Liberation Sans" font-size="12.5" fill="#000" text-anchor="middle" font-weight="normal" font-style="normal" >2</text>
<text x="494.28" y="508.2" font-family="Liberation Sans" font-size="12.5" fill="#000" text-anchor="middle" font-weight="normal" font-style="normal" >4</text>
<text x="520.42" y="508.2" font-family="Liberation Sans" font-size="12.5" fill="#000" text-anchor="middle" font-weight="normal" font-style="normal" >6</text>
<text x="546.56" y="508.2" font-family="Liberation Sans" font-size="12.5" fill="#000" text-anchor="middle" font-weight="normal" font-style="normal" >8</text>
<text x="572.7" y="508.2" font-family="Liberation Sans" font-size="12.5" fill="#000" text-anchor="middle" font-weight="normal" font-style="normal" >10</text>
<text x="508.3" y="521.6" font-family="Liberation Sans" font-size="13.5" fill="#000" text-anchor="middle" font-weight="normal" font-style="normal" >Time (hours)</text>
<text x="516.4" y="439.4" font-family="Liberation Sans" font-size="14.5" font-weight="bold" font-style="italic" fill="#000">PULSE</text>
<path d="M468.5,43.9 C468.37,44.67 467.99,46.91 467.72,48.5 C467.44,50.09 467.2,51.92 466.84,53.47 C466.48,55.02 466.06,56.35 465.56,57.79 C465.05,59.23 464.44,60.71 463.81,62.12 C463.18,63.53 462.44,65.27 461.78,66.26 C461.12,67.24 460.45,67.51 459.85,68 C459.25,68.49 458.47,69 458.2,69.2" fill="none" stroke="#d01c1c" stroke-width="1.1"/>
<path d="M468.5,43.9 C468.63,44.67 469.01,46.91 469.28,48.5 C469.56,50.09 469.8,51.92 470.16,53.47 C470.52,55.02 470.94,56.35 471.44,57.79 C471.95,59.23 472.56,60.71 473.19,62.12 C473.82,63.53 474.56,65.27 475.22,66.26 C475.88,67.24 476.55,67.51 477.15,68 C477.75,68.49 478.53,69 478.8,69.2" fill="none" stroke="#d01c1c" stroke-width="1.1"/>
<line x1="465.56" y1="57.79" x2="471.44" y2="57.79" stroke="#d01c1c" stroke-width="1.1"/>
<line x1="463.81" y1="62.12" x2="473.19" y2="62.12" stroke="#d01c1c" stroke-width="1.1"/>
<line x1="461.78" y1="66.26" x2="475.22" y2="66.26" stroke="#d01c1c" stroke-width="1.1"/>
<circle cx="468.5" cy="43.9" r="2.48" fill="#d01c1c"/>
<path d="M465.78,41.03 A4.23,4.23 0 0 0 465.78,47.51" fill="none" stroke="#e25555" stroke-width="0.87"/>
<path d="M471.22,41.03 A4.23,4.23 0 0 1 471.22,47.51" fill="none" stroke="#e25555" stroke-width="0.87"/>
<path d="M463.83,38.7 A7.27,7.27 0 0 0 463.83,49.84" fill="none" stroke="#e25555" stroke-width="0.87"/>
<path d="M473.17,38.7 A7.27,7.27 0 0 1 473.17,49.84" fill="none" stroke="#e25555" stroke-width="0.87"/>
<path d="M461.88,36.37 A10.3,10.3 0 0 0 461.88,52.16" fill="none" stroke="#e25555" stroke-width="0.87"/>
<path d="M475.12,36.37 A10.3,10.3 0 0 1 475.12,52.16" fill="none" stroke="#e25555" stroke-width="0.87"/>
<path d="M459.93,34.05 A13.34,13.34 0 0 0 459.93,54.49" fill="none" stroke="#e25555" stroke-width="0.87"/>
<path d="M477.07,34.05 A13.34,13.34 0 0 1 477.07,54.49" fill="none" stroke="#e25555" stroke-width="0.87"/>
<path d="M457.91,31.65 A16.47,16.47 0 0 0 457.91,56.88" fill="none" stroke="#e25555" stroke-width="0.87"/>
<path d="M479.09,31.65 A16.47,16.47 0 0 1 479.09,56.88" fill="none" stroke="#e25555" stroke-width="0.87"/>
<text x="468.5" y="35.16" font-family="Liberation Sans" font-size="11.5" fill="#d01c1c" text-anchor="middle">ON</text>
<line x1="460.4" y1="73.34" x2="460.4" y2="81.16" stroke="#c4c4c4" stroke-width="0.6"/>
<line x1="462.61" y1="73.34" x2="462.61" y2="81.16" stroke="#c4c4c4" stroke-width="0.6"/>
<line x1="464.82" y1="73.34" x2="464.82" y2="81.16" stroke="#c4c4c4" stroke-width="0.6"/>
<line x1="470.71" y1="73.34" x2="470.71" y2="81.16" stroke="#c4c4c4" stroke-width="0.6"/>
<line x1="472.92" y1="73.34" x2="472.92" y2="81.16" stroke="#c4c4c4" stroke-width="0.6"/>
<line x1="475.12" y1="73.34" x2="475.12" y2="81.16" stroke="#c4c4c4" stroke-width="0.6"/>
<defs><linearGradient id="dg184" x1="0" x2="1" y1="0" y2="0"><stop offset="0.35" stop-color="#111"/><stop offset="0.75" stop-color="#6a0a0a"/></linearGradient></defs>
<path d="M455.53,81.8 C459.67,76.56 462.15,71.22 465.74,71.32 C469.42,71.41 473.47,80.24 477.88,83.55" fill="none" stroke="url(#dg184)" stroke-width="1.33"/>
<path d="M452.86,76.84 C456.91,78.68 458.56,83.74 461.69,83.55 C466.11,83.28 469.79,71.22 474.2,71.41 C477.33,71.5 479.17,74.26 478.8,76.1" fill="none" stroke="#ee1111" stroke-width="1.56"/>
<path d="M495.2,223.3 C495.07,224.06 494.7,226.27 494.43,227.85 C494.15,229.43 493.92,231.23 493.56,232.76 C493.21,234.3 492.79,235.62 492.29,237.04 C491.79,238.47 491.18,239.92 490.56,241.32 C489.94,242.71 489.21,244.44 488.56,245.41 C487.9,246.38 487.24,246.66 486.65,247.14 C486.05,247.63 485.28,248.13 485.01,248.33" fill="none" stroke="#1c1cc0" stroke-width="1.09"/>
<path d="M495.2,223.3 C495.33,224.06 495.7,226.27 495.97,227.85 C496.25,229.43 496.48,231.23 496.84,232.76 C497.19,234.3 497.61,235.62 498.11,237.04 C498.61,238.47 499.22,239.92 499.84,241.32 C500.46,242.71 501.19,244.44 501.84,245.41 C502.5,246.38 503.16,246.66 503.75,247.14 C504.35,247.63 505.12,248.13 505.39,248.33" fill="none" stroke="#1c1cc0" stroke-width="1.09"/>
<line x1="492.29" y1="237.04" x2="498.11" y2="237.04" stroke="#1c1cc0" stroke-width="1.09"/>
<line x1="490.56" y1="241.32" x2="499.84" y2="241.32" stroke="#1c1cc0" stroke-width="1.09"/>
<line x1="488.56" y1="245.41" x2="501.84" y2="245.41" stroke="#1c1cc0" stroke-width="1.09"/>
<circle cx="495.2" cy="223.3" r="2.46" fill="#1c1cc0"/>
<path d="M492.51,220.46 A4.19,4.19 0 0 0 492.51,226.87" fill="none" stroke="#5c5cdc" stroke-width="0.86"/>
<path d="M497.89,220.46 A4.19,4.19 0 0 1 497.89,226.87" fill="none" stroke="#5c5cdc" stroke-width="0.86"/>
<path d="M490.58,218.16 A7.19,7.19 0 0 0 490.58,229.17" fill="none" stroke="#5c5cdc" stroke-width="0.86"/>
<path d="M499.82,218.16 A7.19,7.19 0 0 1 499.82,229.17" fill="none" stroke="#5c5cdc" stroke-width="0.86"/>
<path d="M488.65,215.86 A10.19,10.19 0 0 0 488.65,231.47" fill="none" stroke="#5c5cdc" stroke-width="0.86"/>
<path d="M501.75,215.86 A10.19,10.19 0 0 1 501.75,231.47" fill="none" stroke="#5c5cdc" stroke-width="0.86"/>
<path d="M486.72,213.56 A13.2,13.2 0 0 0 486.72,233.77" fill="none" stroke="#5c5cdc" stroke-width="0.86"/>
<path d="M503.68,213.56 A13.2,13.2 0 0 1 503.68,233.77" fill="none" stroke="#5c5cdc" stroke-width="0.86"/>
<path d="M484.73,211.19 A16.29,16.29 0 0 0 484.73,236.14" fill="none" stroke="#5c5cdc" stroke-width="0.86"/>
<path d="M505.67,211.19 A16.29,16.29 0 0 1 505.67,236.14" fill="none" stroke="#5c5cdc" stroke-width="0.86"/>
<text x="495.2" y="214.66" font-family="Liberation Sans" font-size="11.5" fill="#1c1cc0" text-anchor="middle">ON</text>
<line x1="487.19" y1="252.42" x2="487.19" y2="260.16" stroke="#c4c4c4" stroke-width="0.59"/>
<line x1="489.38" y1="252.42" x2="489.38" y2="260.16" stroke="#c4c4c4" stroke-width="0.59"/>
<line x1="491.56" y1="252.42" x2="491.56" y2="260.16" stroke="#c4c4c4" stroke-width="0.59"/>
<line x1="497.38" y1="252.42" x2="497.38" y2="260.16" stroke="#c4c4c4" stroke-width="0.59"/>
<line x1="499.57" y1="252.42" x2="499.57" y2="260.16" stroke="#c4c4c4" stroke-width="0.59"/>
<line x1="501.75" y1="252.42" x2="501.75" y2="260.16" stroke="#c4c4c4" stroke-width="0.59"/>
<defs><linearGradient id="dg185" x1="0" x2="1" y1="0" y2="0"><stop offset="0.35" stop-color="#111"/><stop offset="0.75" stop-color="#111"/></linearGradient></defs>
<path d="M482.37,260.79 C486.46,255.61 488.92,250.33 492.47,250.42 C496.11,250.51 500.11,259.25 504.48,262.52" fill="none" stroke="url(#dg185)" stroke-width="1.32"/>
<path d="M479.73,255.88 C483.73,257.7 485.37,262.7 488.47,262.52 C492.83,262.25 496.47,250.33 500.84,250.51 C503.94,250.6 505.76,253.33 505.39,255.15" fill="none" stroke="#1a1ae0" stroke-width="1.55"/>
<text x="-1.1" y="605.8" font-family="Liberation Sans" font-size="34" fill="#000" text-anchor="start" font-weight="normal" font-style="normal" >b</text>
<defs><filter id="nz" x="0" y="0" width="100%" height="100%"><feTurbulence type="fractalNoise" baseFrequency="0.55" numOctaves="2" seed="7"/><feColorMatrix type="matrix" values="0 0 0 0 0  0 0 0 0 0  0 0 0 0 0  0.28 0 0 0 -0.07"/></filter><filter id="blur1" x="-20%" y="-20%" width="140%" height="140%"><feGaussianBlur stdDeviation="0.7"/></filter><linearGradient id="rodg" x1="0" x2="1" y1="0" y2="0"><stop offset="0" stop-color="#121212"/><stop offset="0.5" stop-color="#222"/><stop offset="1" stop-color="#101010"/></linearGradient></defs>
<rect x="60.1" y="578.5" width="91.6" height="91.2" fill="#e2e2e2"/>
<rect x="60.1" y="578.5" width="91.6" height="91.2" fill="#000" filter="url(#nz)"/>
<rect x="60.1" y="673.7" width="91.6" height="90.9" fill="#e2e2e2"/>
<rect x="60.1" y="673.7" width="91.6" height="90.9" fill="#000" filter="url(#nz)"/>
<rect x="99.1" y="592.6" width="13.9" height="62.4" rx="6.9" fill="url(#rodg)" filter="url(#blur1)"/>
<rect x="92.2" y="683.4" width="27.4" height="71" rx="11" fill="#e4e4e4" stroke="#b8b8b8" stroke-width="0.7" filter="url(#blur1)"/>
<rect x="94.9" y="686.3" width="22.1" height="65.2" rx="8.5" fill="url(#rodg)" filter="url(#blur1)"/>
<rect x="66.4" y="598.7" width="2.6" height="50.5" fill="#111"/>
<rect x="66.2" y="693.8" width="2.6" height="51" fill="#111"/>
<text x="138" y="594.5" font-family="Liberation Sans" font-size="13.5" fill="#000" text-anchor="start" font-weight="normal" font-style="normal" >i.</text>
<text x="136.8" y="690.3" font-family="Liberation Sans" font-size="13.5" fill="#000" text-anchor="start" font-weight="normal" font-style="normal" >ii.</text>
<rect x="229.3" y="584.3" width="192.2" height="157.3" fill="none" stroke="#5a5a5a" stroke-width="1.1"/>
<line x1="239.4" y1="741.6" x2="239.4" y2="744.6" stroke="#5a5a5a" stroke-width="1" />
<line x1="259.62" y1="741.6" x2="259.62" y2="743.6" stroke="#5a5a5a" stroke-width="1" />
<line x1="279.84" y1="741.6" x2="279.84" y2="744.6" stroke="#5a5a5a" stroke-width="1" />
<line x1="300.06" y1="741.6" x2="300.06" y2="743.6" stroke="#5a5a5a" stroke-width="1" />
<line x1="320.28" y1="741.6" x2="320.28" y2="744.6" stroke="#5a5a5a" stroke-width="1" />
<line x1="340.5" y1="741.6" x2="340.5" y2="743.6" stroke="#5a5a5a" stroke-width="1" />
<line x1="360.72" y1="741.6" x2="360.72" y2="744.6" stroke="#5a5a5a" stroke-width="1" />
<line x1="380.94" y1="741.6" x2="380.94" y2="743.6" stroke="#5a5a5a" stroke-width="1" />
<line x1="401.16" y1="741.6" x2="401.16" y2="744.6" stroke="#5a5a5a" stroke-width="1" />
<line x1="248.52" y1="584.3" x2="248.52" y2="586.8" stroke="#5a5a5a" stroke-width="1" />
<line x1="421.5" y1="600.03" x2="419" y2="600.03" stroke="#5a5a5a" stroke-width="1" />
<line x1="267.74" y1="584.3" x2="267.74" y2="586.8" stroke="#5a5a5a" stroke-width="1" />
<line x1="421.5" y1="615.76" x2="419" y2="615.76" stroke="#5a5a5a" stroke-width="1" />
<line x1="286.96" y1="584.3" x2="286.96" y2="586.8" stroke="#5a5a5a" stroke-width="1" />
<line x1="421.5" y1="631.49" x2="419" y2="631.49" stroke="#5a5a5a" stroke-width="1" />
<line x1="306.18" y1="584.3" x2="306.18" y2="586.8" stroke="#5a5a5a" stroke-width="1" />
<line x1="421.5" y1="647.22" x2="419" y2="647.22" stroke="#5a5a5a" stroke-width="1" />
<line x1="325.4" y1="584.3" x2="325.4" y2="586.8" stroke="#5a5a5a" stroke-width="1" />
<line x1="421.5" y1="662.95" x2="419" y2="662.95" stroke="#5a5a5a" stroke-width="1" />
<line x1="344.62" y1="584.3" x2="344.62" y2="586.8" stroke="#5a5a5a" stroke-width="1" />
<line x1="421.5" y1="678.68" x2="419" y2="678.68" stroke="#5a5a5a" stroke-width="1" />
<line x1="363.84" y1="584.3" x2="363.84" y2="586.8" stroke="#5a5a5a" stroke-width="1" />
<line x1="421.5" y1="694.41" x2="419" y2="694.41" stroke="#5a5a5a" stroke-width="1" />
<line x1="383.06" y1="584.3" x2="383.06" y2="586.8" stroke="#5a5a5a" stroke-width="1" />
<line x1="421.5" y1="710.14" x2="419" y2="710.14" stroke="#5a5a5a" stroke-width="1" />
<line x1="402.28" y1="584.3" x2="402.28" y2="586.8" stroke="#5a5a5a" stroke-width="1" />
<line x1="421.5" y1="725.87" x2="419" y2="725.87" stroke="#5a5a5a" stroke-width="1" />
<line x1="229.3" y1="731" x2="226.3" y2="731" stroke="#5a5a5a" stroke-width="1" />
<line x1="229.3" y1="710.15" x2="227.3" y2="710.15" stroke="#5a5a5a" stroke-width="1" />
<line x1="229.3" y1="689.3" x2="226.3" y2="689.3" stroke="#5a5a5a" stroke-width="1" />
<line x1="229.3" y1="668.45" x2="227.3" y2="668.45" stroke="#5a5a5a" stroke-width="1" />
<line x1="229.3" y1="647.6" x2="226.3" y2="647.6" stroke="#5a5a5a" stroke-width="1" />
<line x1="229.3" y1="626.75" x2="227.3" y2="626.75" stroke="#5a5a5a" stroke-width="1" />
<line x1="229.3" y1="605.9" x2="226.3" y2="605.9" stroke="#5a5a5a" stroke-width="1" />
<text x="239.4" y="757.2" font-family="Liberation Sans" font-size="13" fill="#000" text-anchor="middle" font-weight="normal" font-style="normal" >0</text>
<text x="279.84" y="757.2" font-family="Liberation Sans" font-size="13" fill="#000" text-anchor="middle" font-weight="normal" font-style="normal" >20</text>
<text x="320.28" y="757.2" font-family="Liberation Sans" font-size="13" fill="#000" text-anchor="middle" font-weight="normal" font-style="normal" >40</text>
<text x="360.72" y="757.2" font-family="Liberation Sans" font-size="13" fill="#000" text-anchor="middle" font-weight="normal" font-style="normal" >60</text>
<text x="401.16" y="757.2" font-family="Liberation Sans" font-size="13" fill="#000" text-anchor="middle" font-weight="normal" font-style="normal" >80</text>
<text x="320.8" y="772.5" font-family="Liberation Sans" font-size="13.3" fill="#000" text-anchor="middle" font-weight="normal" font-style="normal" >Energy (Joules)</text>
<text x="224" y="735.4" font-family="Liberation Sans" font-size="13" fill="#000" text-anchor="end" font-weight="normal" font-style="normal" >0</text>
<text x="219.4" y="694.3" font-family="Liberation Sans" font-size="13.1" fill="#000" text-anchor="end">1x10</text>
<text x="219.4" y="687.5" font-family="Liberation Sans" font-size="8.5" fill="#000">5</text>
<text x="219.4" y="652.6" font-family="Liberation Sans" font-size="13.1" fill="#000" text-anchor="end">2x10</text>
<text x="219.4" y="645.8" font-family="Liberation Sans" font-size="8.5" fill="#000">5</text>
<text x="219.4" y="610.9" font-family="Liberation Sans" font-size="13.1" fill="#000" text-anchor="end">3x10</text>
<text x="219.4" y="604.1" font-family="Liberation Sans" font-size="8.5" fill="#000">5</text>
<text transform="translate(186.5,663.3) rotate(-90)" font-family="Liberation Sans" font-size="13.8" fill="#000" text-anchor="middle">FAM fluorescence (au)</text>
<text x="241.5" y="609" font-family="Liberation Serif" font-style="italic" font-size="16.5" fill="#333">λ<tspan font-size="10" dy="2">1</tspan></text>
<text x="256.2" y="609" font-family="Liberation Sans" font-size="14.5" fill="#000">= 785 nm</text>
<path d="M239.4,730.9 C242.27,728.67 245.13,726.39 248,724.2 C251.2,721.75 254.4,719.54 257.6,717 C260.57,714.64 263.53,712.01 266.5,709.5 C269.63,706.85 272.77,703.82 275.9,701.5 C280.27,698.26 284.63,695.88 289,693 C293.57,689.99 298.13,687.18 302.7,683.8 C306.3,681.14 309.9,677.61 313.5,675 C316.33,672.94 319.17,670.86 322,669.4 C324.83,667.94 327.67,667.08 330.5,665.8 C333.53,664.43 336.57,663.11 339.6,661.4 C342.73,659.63 345.87,657.71 349,655 C351.93,652.47 354.87,648.75 357.8,644.7 C360.53,640.93 363.27,634.96 366,631 C368.33,627.62 370.67,624.44 373,622 C375.67,619.21 378.33,616.6 381,615 C385.43,612.35 389.87,610.64 394.3,609.2 C397.3,608.22 400.3,607.15 403.3,606.8 C406.43,606.43 409.57,606.33 412.7,606.1" fill="none" stroke="#f00" stroke-width="1.5"/>
<path d="M239.4,730.9 C245.47,731.17 251.53,731.7 257.6,731.7 C263.7,731.7 269.8,730.99 275.9,730.3 C280.6,729.77 285.3,728.25 290,727.5 C294.23,726.83 298.47,726.27 302.7,725.8 C305.8,725.45 308.9,724.9 312,724.9 C315.07,724.9 318.13,724.9 321.2,724.9 C324.3,724.9 327.4,726.2 330.5,726.8 C333.53,727.39 336.57,728.44 339.6,728.5 C342.6,728.56 345.6,728.6 348.6,728.6 C351.67,728.6 354.73,728.4 357.8,728.2 C363.9,727.79 370,725.61 376.1,724.6 C382.17,723.6 388.23,722.79 394.3,722 C400.43,721.2 406.57,720.53 412.7,719.8" fill="none" stroke="#0a0af0" stroke-width="1.5"/>
<rect x="236.5" y="728" width="5.8" height="5.8" fill="#00f"/>
<line x1="257.6" y1="727.2" x2="257.6" y2="738.7" stroke="#00f" stroke-width="1.3" />
<line x1="255.3" y1="727.2" x2="259.9" y2="727.2" stroke="#00f" stroke-width="1.3" />
<line x1="255.3" y1="738.7" x2="259.9" y2="738.7" stroke="#00f" stroke-width="1.3" />
<rect x="254.7" y="730.1" width="5.8" height="5.8" fill="#00f"/>
<rect x="273" y="727.4" width="5.8" height="5.8" fill="#00f"/>
<line x1="302.7" y1="718.8" x2="302.7" y2="733.4" stroke="#00f" stroke-width="1.3" />
<line x1="300.4" y1="718.8" x2="305" y2="718.8" stroke="#00f" stroke-width="1.3" />
<line x1="300.4" y1="733.4" x2="305" y2="733.4" stroke="#00f" stroke-width="1.3" />
<rect x="299.8" y="723.2" width="5.8" height="5.8" fill="#00f"/>
<line x1="321.2" y1="718.2" x2="321.2" y2="730.3" stroke="#00f" stroke-width="1.3" />
<line x1="318.9" y1="718.2" x2="323.5" y2="718.2" stroke="#00f" stroke-width="1.3" />
<line x1="318.9" y1="730.3" x2="323.5" y2="730.3" stroke="#00f" stroke-width="1.3" />
<rect x="318.3" y="721.1" width="5.8" height="5.8" fill="#00f"/>
<line x1="339.6" y1="722" x2="339.6" y2="738" stroke="#00f" stroke-width="1.3" />
<line x1="337.3" y1="722" x2="341.9" y2="722" stroke="#00f" stroke-width="1.3" />
<line x1="337.3" y1="738" x2="341.9" y2="738" stroke="#00f" stroke-width="1.3" />
<rect x="336.7" y="727" width="5.8" height="5.8" fill="#00f"/>
<line x1="357.8" y1="716.7" x2="357.8" y2="739.7" stroke="#00f" stroke-width="1.3" />
<line x1="355.5" y1="716.7" x2="360.1" y2="716.7" stroke="#00f" stroke-width="1.3" />
<line x1="355.5" y1="739.7" x2="360.1" y2="739.7" stroke="#00f" stroke-width="1.3" />
<rect x="354.9" y="725.3" width="5.8" height="5.8" fill="#00f"/>
<line x1="376.1" y1="718.2" x2="376.1" y2="731.8" stroke="#00f" stroke-width="1.3" />
<line x1="373.8" y1="718.2" x2="378.4" y2="718.2" stroke="#00f" stroke-width="1.3" />
<line x1="373.8" y1="731.8" x2="378.4" y2="731.8" stroke="#00f" stroke-width="1.3" />
<rect x="373.2" y="721.6" width="5.8" height="5.8" fill="#00f"/>
<line x1="394.3" y1="717.2" x2="394.3" y2="726.6" stroke="#00f" stroke-width="1.3" />
<line x1="392" y1="717.2" x2="396.6" y2="717.2" stroke="#00f" stroke-width="1.3" />
<line x1="392" y1="726.6" x2="396.6" y2="726.6" stroke="#00f" stroke-width="1.3" />
<rect x="391.4" y="719.1" width="5.8" height="5.8" fill="#00f"/>
<rect x="409.8" y="717" width="5.8" height="5.8" fill="#00f"/>
<circle cx="239.4" cy="730.9" r="3.4" fill="#f00"/>
<line x1="257.6" y1="690.6" x2="257.6" y2="740.3" stroke="#f00" stroke-width="1.3" />
<line x1="255.3" y1="690.6" x2="259.9" y2="690.6" stroke="#f00" stroke-width="1.3" />
<line x1="255.3" y1="740.3" x2="259.9" y2="740.3" stroke="#f00" stroke-width="1.3" />
<circle cx="257.6" cy="717" r="3.4" fill="#f00"/>
<line x1="275.9" y1="686.9" x2="275.9" y2="716.7" stroke="#f00" stroke-width="1.3" />
<line x1="273.6" y1="686.9" x2="278.2" y2="686.9" stroke="#f00" stroke-width="1.3" />
<line x1="273.6" y1="716.7" x2="278.2" y2="716.7" stroke="#f00" stroke-width="1.3" />
<circle cx="275.9" cy="701.5" r="3.4" fill="#f00"/>
<line x1="302.7" y1="670.6" x2="302.7" y2="697.3" stroke="#f00" stroke-width="1.3" />
<line x1="300.4" y1="670.6" x2="305" y2="670.6" stroke="#f00" stroke-width="1.3" />
<line x1="300.4" y1="697.3" x2="305" y2="697.3" stroke="#f00" stroke-width="1.3" />
<circle cx="302.7" cy="683.8" r="3.4" fill="#f00"/>
<line x1="321.2" y1="645.8" x2="321.2" y2="682.3" stroke="#f00" stroke-width="1.3" />
<line x1="318.9" y1="645.8" x2="323.5" y2="645.8" stroke="#f00" stroke-width="1.3" />
<line x1="318.9" y1="682.3" x2="323.5" y2="682.3" stroke="#f00" stroke-width="1.3" />
<circle cx="321.2" cy="664.1" r="3.4" fill="#f00"/>
<line x1="339.6" y1="643.3" x2="339.6" y2="692.1" stroke="#f00" stroke-width="1.3" />
<line x1="337.3" y1="643.3" x2="341.9" y2="643.3" stroke="#f00" stroke-width="1.3" />
<line x1="337.3" y1="692.1" x2="341.9" y2="692.1" stroke="#f00" stroke-width="1.3" />
<circle cx="339.6" cy="667.7" r="3.4" fill="#f00"/>
<line x1="357.8" y1="626.3" x2="357.8" y2="666.2" stroke="#f00" stroke-width="1.3" />
<line x1="355.5" y1="626.3" x2="360.1" y2="626.3" stroke="#f00" stroke-width="1.3" />
<line x1="355.5" y1="666.2" x2="360.1" y2="666.2" stroke="#f00" stroke-width="1.3" />
<circle cx="357.8" cy="646.8" r="3.4" fill="#f00"/>
<line x1="376.1" y1="595" x2="376.1" y2="629.7" stroke="#f00" stroke-width="1.3" />
<line x1="373.8" y1="595" x2="378.4" y2="595" stroke="#f00" stroke-width="1.3" />
<line x1="373.8" y1="629.7" x2="378.4" y2="629.7" stroke="#f00" stroke-width="1.3" />
<circle cx="376.1" cy="612.4" r="3.4" fill="#f00"/>
<line x1="394.3" y1="592.5" x2="394.3" y2="624.3" stroke="#f00" stroke-width="1.3" />
<line x1="392" y1="592.5" x2="396.6" y2="592.5" stroke="#f00" stroke-width="1.3" />
<line x1="392" y1="624.3" x2="396.6" y2="624.3" stroke="#f00" stroke-width="1.3" />
<circle cx="394.3" cy="608.2" r="3.4" fill="#f00"/>
<line x1="412.7" y1="587.7" x2="412.7" y2="624.5" stroke="#f00" stroke-width="1.3" />
<line x1="410.4" y1="587.7" x2="415" y2="587.7" stroke="#f00" stroke-width="1.3" />
<line x1="410.4" y1="624.5" x2="415" y2="624.5" stroke="#f00" stroke-width="1.3" />
<circle cx="412.7" cy="606.1" r="3.4" fill="#f00"/>
<text x="435.2" y="616.7" font-family="Liberation Sans" font-size="12.5" fill="#000" text-anchor="start" font-weight="normal" font-style="normal" >i.</text>
<text x="435.2" y="714.7" font-family="Liberation Sans" font-size="12.5" fill="#000" text-anchor="start" font-weight="normal" font-style="normal" >ii</text>
<path d="M463.5,612.4 C463.37,613.17 462.99,615.44 462.71,617.05 C462.43,618.66 462.19,620.51 461.83,622.07 C461.46,623.64 461.04,624.99 460.52,626.44 C460.01,627.9 459.39,629.39 458.76,630.81 C458.12,632.24 457.38,634.01 456.71,635 C456.04,635.99 455.36,636.27 454.76,636.77 C454.15,637.26 453.36,637.77 453.08,637.98" fill="none" stroke="#d01c1c" stroke-width="1.12"/>
<path d="M463.5,612.4 C463.63,613.17 464.01,615.44 464.29,617.05 C464.57,618.66 464.81,620.51 465.17,622.07 C465.54,623.64 465.96,624.99 466.48,626.44 C466.99,627.9 467.61,629.39 468.24,630.81 C468.88,632.24 469.62,634.01 470.29,635 C470.96,635.99 471.64,636.27 472.24,636.77 C472.85,637.26 473.64,637.77 473.92,637.98" fill="none" stroke="#d01c1c" stroke-width="1.12"/>
<line x1="460.52" y1="626.44" x2="466.48" y2="626.44" stroke="#d01c1c" stroke-width="1.12"/>
<line x1="458.76" y1="630.81" x2="468.24" y2="630.81" stroke="#d01c1c" stroke-width="1.12"/>
<line x1="456.71" y1="635" x2="470.29" y2="635" stroke="#d01c1c" stroke-width="1.12"/>
<circle cx="463.5" cy="612.4" r="2.51" fill="#d01c1c"/>
<text x="463.5" y="603.56" font-family="Liberation Sans" font-size="11.2" fill="#d01c1c" text-anchor="middle">OFF</text>
<path d="M523.8,611.6 C523.67,612.38 523.29,614.64 523.01,616.25 C522.73,617.86 522.49,619.71 522.13,621.27 C521.76,622.84 521.34,624.19 520.82,625.64 C520.31,627.1 519.69,628.59 519.06,630.01 C518.42,631.44 517.68,633.21 517.01,634.2 C516.34,635.19 515.66,635.47 515.06,635.97 C514.45,636.46 513.66,636.97 513.38,637.18" fill="none" stroke="#d01c1c" stroke-width="1.12"/>
<path d="M523.8,611.6 C523.93,612.38 524.31,614.64 524.59,616.25 C524.87,617.86 525.11,619.71 525.47,621.27 C525.84,622.84 526.26,624.19 526.78,625.64 C527.29,627.1 527.91,628.59 528.54,630.01 C529.18,631.44 529.92,633.21 530.59,634.2 C531.26,635.19 531.94,635.47 532.54,635.97 C533.15,636.46 533.94,636.97 534.22,637.18" fill="none" stroke="#d01c1c" stroke-width="1.12"/>
<line x1="520.82" y1="625.64" x2="526.78" y2="625.64" stroke="#d01c1c" stroke-width="1.12"/>
<line x1="519.06" y1="630.01" x2="528.54" y2="630.01" stroke="#d01c1c" stroke-width="1.12"/>
<line x1="517.01" y1="634.2" x2="530.59" y2="634.2" stroke="#d01c1c" stroke-width="1.12"/>
<circle cx="523.8" cy="611.6" r="2.51" fill="#d01c1c"/>
<path d="M521.05,608.69 A4.28,4.28 0 0 0 521.05,615.25" fill="none" stroke="#e25555" stroke-width="0.88"/>
<path d="M526.55,608.69 A4.28,4.28 0 0 1 526.55,615.25" fill="none" stroke="#e25555" stroke-width="0.88"/>
<path d="M519.08,606.34 A7.35,7.35 0 0 0 519.08,617.6" fill="none" stroke="#e25555" stroke-width="0.88"/>
<path d="M528.52,606.34 A7.35,7.35 0 0 1 528.52,617.6" fill="none" stroke="#e25555" stroke-width="0.88"/>
<path d="M517.1,603.99 A10.42,10.42 0 0 0 517.1,619.95" fill="none" stroke="#e25555" stroke-width="0.88"/>
<path d="M530.5,603.99 A10.42,10.42 0 0 1 530.5,619.95" fill="none" stroke="#e25555" stroke-width="0.88"/>
<path d="M515.13,601.64 A13.49,13.49 0 0 0 515.13,622.3" fill="none" stroke="#e25555" stroke-width="0.88"/>
<path d="M532.47,601.64 A13.49,13.49 0 0 1 532.47,622.3" fill="none" stroke="#e25555" stroke-width="0.88"/>
<path d="M513.1,599.22 A16.65,16.65 0 0 0 513.1,624.72" fill="none" stroke="#e25555" stroke-width="0.88"/>
<path d="M534.5,599.22 A16.65,16.65 0 0 1 534.5,624.72" fill="none" stroke="#e25555" stroke-width="0.88"/>
<text x="523.8" y="602.76" font-family="Liberation Sans" font-size="11.2" fill="#d01c1c" text-anchor="middle">ON</text>
<line x1="515.62" y1="641.36" x2="515.62" y2="649.26" stroke="#c4c4c4" stroke-width="0.6"/>
<line x1="517.85" y1="641.36" x2="517.85" y2="649.26" stroke="#c4c4c4" stroke-width="0.6"/>
<line x1="520.08" y1="641.36" x2="520.08" y2="649.26" stroke="#c4c4c4" stroke-width="0.6"/>
<line x1="526.03" y1="641.36" x2="526.03" y2="649.26" stroke="#c4c4c4" stroke-width="0.6"/>
<line x1="528.26" y1="641.36" x2="528.26" y2="649.26" stroke="#c4c4c4" stroke-width="0.6"/>
<line x1="530.5" y1="641.36" x2="530.5" y2="649.26" stroke="#c4c4c4" stroke-width="0.6"/>
<defs><linearGradient id="dg323" x1="0" x2="1" y1="0" y2="0"><stop offset="0.35" stop-color="#111"/><stop offset="0.75" stop-color="#6a0a0a"/></linearGradient></defs>
<path d="M510.69,649.92 C514.87,644.62 517.38,639.22 521.01,639.31 C524.73,639.41 528.82,648.34 533.29,651.68" fill="none" stroke="url(#dg323)" stroke-width="1.35"/>
<path d="M507.99,644.89 C512.08,646.75 513.76,651.87 516.92,651.68 C521.38,651.4 525.1,639.22 529.57,639.41 C532.73,639.5 534.59,642.29 534.22,644.15" fill="none" stroke="#ee1111" stroke-width="1.58"/>
<path d="M463.5,710.9 C463.37,711.67 462.99,713.94 462.71,715.55 C462.43,717.16 462.19,719.01 461.83,720.57 C461.46,722.14 461.04,723.49 460.52,724.94 C460.01,726.4 459.39,727.89 458.76,729.31 C458.12,730.74 457.38,732.51 456.71,733.5 C456.04,734.49 455.36,734.77 454.76,735.27 C454.15,735.76 453.36,736.27 453.08,736.48" fill="none" stroke="#1c1cc0" stroke-width="1.12"/>
<path d="M463.5,710.9 C463.63,711.67 464.01,713.94 464.29,715.55 C464.57,717.16 464.81,719.01 465.17,720.57 C465.54,722.14 465.96,723.49 466.48,724.94 C466.99,726.4 467.61,727.89 468.24,729.31 C468.88,730.74 469.62,732.51 470.29,733.5 C470.96,734.49 471.64,734.77 472.24,735.27 C472.85,735.76 473.64,736.27 473.92,736.48" fill="none" stroke="#1c1cc0" stroke-width="1.12"/>
<line x1="460.52" y1="724.94" x2="466.48" y2="724.94" stroke="#1c1cc0" stroke-width="1.12"/>
<line x1="458.76" y1="729.31" x2="468.24" y2="729.31" stroke="#1c1cc0" stroke-width="1.12"/>
<line x1="456.71" y1="733.5" x2="470.29" y2="733.5" stroke="#1c1cc0" stroke-width="1.12"/>
<circle cx="463.5" cy="710.9" r="2.51" fill="#1c1cc0"/>
<text x="463.5" y="702.06" font-family="Liberation Sans" font-size="11.2" fill="#1c1cc0" text-anchor="middle">OFF</text>
<path d="M524.3,710.9 C524.17,711.67 523.79,713.94 523.51,715.55 C523.23,717.16 522.99,719.01 522.63,720.57 C522.26,722.14 521.84,723.49 521.32,724.94 C520.81,726.4 520.19,727.89 519.56,729.31 C518.92,730.74 518.18,732.51 517.51,733.5 C516.84,734.49 516.16,734.77 515.56,735.27 C514.95,735.76 514.16,736.27 513.88,736.48" fill="none" stroke="#1c1cc0" stroke-width="1.12"/>
<path d="M524.3,710.9 C524.43,711.67 524.81,713.94 525.09,715.55 C525.37,717.16 525.61,719.01 525.97,720.57 C526.34,722.14 526.76,723.49 527.28,724.94 C527.79,726.4 528.41,727.89 529.04,729.31 C529.68,730.74 530.42,732.51 531.09,733.5 C531.76,734.49 532.44,734.77 533.04,735.27 C533.65,735.76 534.44,736.27 534.72,736.48" fill="none" stroke="#1c1cc0" stroke-width="1.12"/>
<line x1="521.32" y1="724.94" x2="527.28" y2="724.94" stroke="#1c1cc0" stroke-width="1.12"/>
<line x1="519.56" y1="729.31" x2="529.04" y2="729.31" stroke="#1c1cc0" stroke-width="1.12"/>
<line x1="517.51" y1="733.5" x2="531.09" y2="733.5" stroke="#1c1cc0" stroke-width="1.12"/>
<circle cx="524.3" cy="710.9" r="2.51" fill="#1c1cc0"/>
<text x="524.3" y="702.06" font-family="Liberation Sans" font-size="11.2" fill="#1c1cc0" text-anchor="middle">OFF</text>
<line x1="478.5" y1="621.9" x2="499.2" y2="621.9" stroke="#000" stroke-width="2.2" />
<path d="M498,617.9 L503.2,621.9 L498,625.9 Z" fill="#000"/>
<line x1="478.5" y1="720.4" x2="499.2" y2="720.4" stroke="#000" stroke-width="2.2" />
<path d="M498,716.4 L503.2,720.4 L498,724.4 Z" fill="#000"/>
<text x="485.6" y="613.5" font-family="Liberation Serif" font-style="italic" font-size="16.5" fill="#222">λ<tspan font-size="10.5" dy="2.3">1</tspan></text>
<text x="485.6" y="712.2" font-family="Liberation Serif" font-style="italic" font-size="16.5" fill="#222">λ<tspan font-size="10.5" dy="2.3">1</tspan></text>
<text x="622.8" y="26.3" font-family="Liberation Sans" font-size="34" fill="#000" text-anchor="start" font-weight="normal" font-style="normal" >c</text>
<rect x="715.2" y="1.0" width="332.6" height="66.9" fill="none" stroke="#262626" stroke-width="1.3"/>
<line x1="714.6" y1="0.7" x2="1048.4" y2="0.7" stroke="#000" stroke-width="1.5" />
<line x1="793.2" y1="1" x2="793.2" y2="67.9" stroke="#262626" stroke-width="1.3" />
<line x1="873.6" y1="1" x2="873.6" y2="67.9" stroke="#262626" stroke-width="1.3" />
<line x1="954.5" y1="1" x2="954.5" y2="67.9" stroke="#262626" stroke-width="1.3" />
<line x1="715.2" y1="86.8" x2="873.6" y2="86.8" stroke="#8a8a8a" stroke-width="1.1" />
<line x1="715.2" y1="105.6" x2="873.6" y2="105.6" stroke="#8a8a8a" stroke-width="1.1" />
<line x1="715.2" y1="124.4" x2="873.6" y2="124.4" stroke="#8a8a8a" stroke-width="1.1" />
<line x1="715.2" y1="67.9" x2="715.2" y2="143.1" stroke="#8a8a8a" stroke-width="1.1" />
<line x1="793.2" y1="67.9" x2="793.2" y2="143.1" stroke="#8a8a8a" stroke-width="1.1" />
<line x1="715.2" y1="143.1" x2="873.6" y2="143.1" stroke="#8a8a8a" stroke-width="1.1" />
<line x1="873.6" y1="86.8" x2="1047.8" y2="86.8" stroke="#262626" stroke-width="1.2" />
<line x1="873.6" y1="105.6" x2="1047.8" y2="105.6" stroke="#262626" stroke-width="1.2" />
<line x1="873.6" y1="124.4" x2="1047.8" y2="124.4" stroke="#262626" stroke-width="1.2" />
<line x1="873.6" y1="143.1" x2="1047.8" y2="143.1" stroke="#262626" stroke-width="1.2" />
<line x1="873.6" y1="67.9" x2="873.6" y2="143.1" stroke="#262626" stroke-width="1.2" />
<line x1="954.5" y1="67.9" x2="954.5" y2="143.1" stroke="#262626" stroke-width="1.2" />
<line x1="1047.8" y1="67.9" x2="1047.8" y2="143.1" stroke="#262626" stroke-width="1.2" />
<path d="M754.5,22.3 C754.36,23.13 753.95,25.57 753.65,27.3 C753.35,29.03 753.09,31.02 752.7,32.7 C752.31,34.38 751.85,35.83 751.3,37.4 C750.75,38.97 750.08,40.57 749.4,42.1 C748.72,43.63 747.92,45.53 747.2,46.6 C746.48,47.67 745.75,47.97 745.1,48.5 C744.45,49.03 743.6,49.58 743.3,49.8" fill="none" stroke="#d01c1c" stroke-width="1.2"/>
<path d="M754.5,22.3 C754.64,23.13 755.05,25.57 755.35,27.3 C755.65,29.03 755.91,31.02 756.3,32.7 C756.69,34.38 757.15,35.83 757.7,37.4 C758.25,38.97 758.92,40.57 759.6,42.1 C760.28,43.63 761.08,45.53 761.8,46.6 C762.52,47.67 763.25,47.97 763.9,48.5 C764.55,49.03 765.4,49.58 765.7,49.8" fill="none" stroke="#d01c1c" stroke-width="1.2"/>
<line x1="751.3" y1="37.4" x2="757.7" y2="37.4" stroke="#d01c1c" stroke-width="1.2"/>
<line x1="749.4" y1="42.1" x2="759.6" y2="42.1" stroke="#d01c1c" stroke-width="1.2"/>
<line x1="747.2" y1="46.6" x2="761.8" y2="46.6" stroke="#d01c1c" stroke-width="1.2"/>
<circle cx="754.5" cy="22.3" r="2.7" fill="#d01c1c"/>
<path d="M751.54,19.18 A4.6,4.6 0 0 0 751.54,26.22" fill="none" stroke="#e25555" stroke-width="0.95"/>
<path d="M757.46,19.18 A4.6,4.6 0 0 1 757.46,26.22" fill="none" stroke="#e25555" stroke-width="0.95"/>
<path d="M749.42,16.65 A7.9,7.9 0 0 0 749.42,28.75" fill="none" stroke="#e25555" stroke-width="0.95"/>
<path d="M759.58,16.65 A7.9,7.9 0 0 1 759.58,28.75" fill="none" stroke="#e25555" stroke-width="0.95"/>
<path d="M747.3,14.12 A11.2,11.2 0 0 0 747.3,31.28" fill="none" stroke="#e25555" stroke-width="0.95"/>
<path d="M761.7,14.12 A11.2,11.2 0 0 1 761.7,31.28" fill="none" stroke="#e25555" stroke-width="0.95"/>
<path d="M745.18,11.59 A14.5,14.5 0 0 0 745.18,33.81" fill="none" stroke="#e25555" stroke-width="0.95"/>
<path d="M763.82,11.59 A14.5,14.5 0 0 1 763.82,33.81" fill="none" stroke="#e25555" stroke-width="0.95"/>
<path d="M742.99,8.99 A17.9,17.9 0 0 0 742.99,36.41" fill="none" stroke="#e25555" stroke-width="0.95"/>
<path d="M766.01,8.99 A17.9,17.9 0 0 1 766.01,36.41" fill="none" stroke="#e25555" stroke-width="0.95"/>
<text x="754.5" y="12.6" font-family="Liberation Sans" font-size="12.2" fill="#d01c1c" text-anchor="middle">ON</text>
<line x1="745.7" y1="54.3" x2="745.7" y2="62.8" stroke="#c4c4c4" stroke-width="0.65"/>
<line x1="748.1" y1="54.3" x2="748.1" y2="62.8" stroke="#c4c4c4" stroke-width="0.65"/>
<line x1="750.5" y1="54.3" x2="750.5" y2="62.8" stroke="#c4c4c4" stroke-width="0.65"/>
<line x1="756.9" y1="54.3" x2="756.9" y2="62.8" stroke="#c4c4c4" stroke-width="0.65"/>
<line x1="759.3" y1="54.3" x2="759.3" y2="62.8" stroke="#c4c4c4" stroke-width="0.65"/>
<line x1="761.7" y1="54.3" x2="761.7" y2="62.8" stroke="#c4c4c4" stroke-width="0.65"/>
<defs><linearGradient id="dg351" x1="0" x2="1" y1="0" y2="0"><stop offset="0.35" stop-color="#111"/><stop offset="0.75" stop-color="#6a0a0a"/></linearGradient></defs>
<path d="M740.4,63.5 C744.9,57.8 747.6,52 751.5,52.1 C755.5,52.2 759.9,61.8 764.7,65.4" fill="none" stroke="url(#dg351)" stroke-width="1.45"/>
<path d="M737.5,58.1 C741.9,60.1 743.7,65.6 747.1,65.4 C751.9,65.1 755.9,52 760.7,52.2 C764.1,52.3 766.1,55.3 765.7,57.3" fill="none" stroke="#ee1111" stroke-width="1.7"/>
<path d="M836.3,22.3 C836.16,23.13 835.75,25.57 835.45,27.3 C835.15,29.03 834.89,31.02 834.5,32.7 C834.11,34.38 833.65,35.83 833.1,37.4 C832.55,38.97 831.88,40.57 831.2,42.1 C830.52,43.63 829.72,45.53 829,46.6 C828.28,47.67 827.55,47.97 826.9,48.5 C826.25,49.03 825.4,49.58 825.1,49.8" fill="none" stroke="#1c1cc0" stroke-width="1.2"/>
<path d="M836.3,22.3 C836.44,23.13 836.85,25.57 837.15,27.3 C837.45,29.03 837.71,31.02 838.1,32.7 C838.49,34.38 838.95,35.83 839.5,37.4 C840.05,38.97 840.72,40.57 841.4,42.1 C842.08,43.63 842.88,45.53 843.6,46.6 C844.32,47.67 845.05,47.97 845.7,48.5 C846.35,49.03 847.2,49.58 847.5,49.8" fill="none" stroke="#1c1cc0" stroke-width="1.2"/>
<line x1="833.1" y1="37.4" x2="839.5" y2="37.4" stroke="#1c1cc0" stroke-width="1.2"/>
<line x1="831.2" y1="42.1" x2="841.4" y2="42.1" stroke="#1c1cc0" stroke-width="1.2"/>
<line x1="829" y1="46.6" x2="843.6" y2="46.6" stroke="#1c1cc0" stroke-width="1.2"/>
<circle cx="836.3" cy="22.3" r="2.7" fill="#1c1cc0"/>
<path d="M833.34,19.18 A4.6,4.6 0 0 0 833.34,26.22" fill="none" stroke="#5c5cdc" stroke-width="0.95"/>
<path d="M839.26,19.18 A4.6,4.6 0 0 1 839.26,26.22" fill="none" stroke="#5c5cdc" stroke-width="0.95"/>
<path d="M831.22,16.65 A7.9,7.9 0 0 0 831.22,28.75" fill="none" stroke="#5c5cdc" stroke-width="0.95"/>
<path d="M841.38,16.65 A7.9,7.9 0 0 1 841.38,28.75" fill="none" stroke="#5c5cdc" stroke-width="0.95"/>
<path d="M829.1,14.12 A11.2,11.2 0 0 0 829.1,31.28" fill="none" stroke="#5c5cdc" stroke-width="0.95"/>
<path d="M843.5,14.12 A11.2,11.2 0 0 1 843.5,31.28" fill="none" stroke="#5c5cdc" stroke-width="0.95"/>
<path d="M826.98,11.59 A14.5,14.5 0 0 0 826.98,33.81" fill="none" stroke="#5c5cdc" stroke-width="0.95"/>
<path d="M845.62,11.59 A14.5,14.5 0 0 1 845.62,33.81" fill="none" stroke="#5c5cdc" stroke-width="0.95"/>
<path d="M824.79,8.99 A17.9,17.9 0 0 0 824.79,36.41" fill="none" stroke="#5c5cdc" stroke-width="0.95"/>
<path d="M847.81,8.99 A17.9,17.9 0 0 1 847.81,36.41" fill="none" stroke="#5c5cdc" stroke-width="0.95"/>
<text x="836.3" y="12.6" font-family="Liberation Sans" font-size="12.2" fill="#1c1cc0" text-anchor="middle">ON</text>
<line x1="827.5" y1="54.3" x2="827.5" y2="62.8" stroke="#c4c4c4" stroke-width="0.65"/>
<line x1="829.9" y1="54.3" x2="829.9" y2="62.8" stroke="#c4c4c4" stroke-width="0.65"/>
<line x1="832.3" y1="54.3" x2="832.3" y2="62.8" stroke="#c4c4c4" stroke-width="0.65"/>
<line x1="838.7" y1="54.3" x2="838.7" y2="62.8" stroke="#c4c4c4" stroke-width="0.65"/>
<line x1="841.1" y1="54.3" x2="841.1" y2="62.8" stroke="#c4c4c4" stroke-width="0.65"/>
<line x1="843.5" y1="54.3" x2="843.5" y2="62.8" stroke="#c4c4c4" stroke-width="0.65"/>
<defs><linearGradient id="dg352" x1="0" x2="1" y1="0" y2="0"><stop offset="0.35" stop-color="#111"/><stop offset="0.75" stop-color="#111"/></linearGradient></defs>
<path d="M822.2,63.5 C826.7,57.8 829.4,52 833.3,52.1 C837.3,52.2 841.7,61.8 846.5,65.4" fill="none" stroke="url(#dg352)" stroke-width="1.45"/>
<path d="M819.3,58.1 C823.7,60.1 825.5,65.6 828.9,65.4 C833.7,65.1 837.7,52 842.5,52.2 C845.9,52.3 847.9,55.3 847.5,57.3" fill="none" stroke="#1a1ae0" stroke-width="1.7"/>
<text x="914" y="24.7" font-family="Liberation Sans" font-size="13" fill="#000" text-anchor="middle" font-weight="bold" font-style="normal" >Output</text>
<text x="914" y="38.6" font-family="Liberation Sans" font-size="13" fill="#000" text-anchor="middle" font-weight="bold" font-style="normal" >IP-10</text>
<text x="1001.2" y="24.7" font-family="Liberation Sans" font-size="13" fill="#000" text-anchor="middle" font-weight="bold" font-style="normal" >Output</text>
<text x="1001.2" y="38.6" font-family="Liberation Sans" font-size="13" fill="#000" text-anchor="middle" font-weight="bold" font-style="normal" >RANTES</text>
<text x="914" y="53.6" font-family="Liberation Sans" font-size="13.2" fill="#000" text-anchor="middle" font-weight="normal" font-style="italic" >early gene</text>
<text x="1001.2" y="53.6" font-family="Liberation Sans" font-size="13.2" fill="#000" text-anchor="middle" font-weight="normal" font-style="italic" >late gene</text>
<text x="672.6" y="82.9" font-family="Liberation Sans" font-size="14.5" fill="#000" text-anchor="start" font-weight="normal" font-style="normal" >i.</text>
<text x="672.6" y="102.3" font-family="Liberation Sans" font-size="14.5" fill="#000" text-anchor="start" font-weight="normal" font-style="normal" >ii.</text>
<text x="672.6" y="122.1" font-family="Liberation Sans" font-size="14.5" fill="#000" text-anchor="start" font-weight="normal" font-style="normal" >iii.</text>
<text x="672.6" y="139.8" font-family="Liberation Sans" font-size="14.5" fill="#000" text-anchor="start" font-weight="normal" font-style="normal" >iv.</text>
<text x="754.2" y="83.5" font-family="Liberation Sans" font-size="14" fill="#000" text-anchor="middle" font-weight="normal" font-style="normal" >0</text>
<text x="833.4" y="83.5" font-family="Liberation Sans" font-size="14" fill="#000" text-anchor="middle" font-weight="normal" font-style="normal" >0</text>
<text x="914.05" y="83.5" font-family="Liberation Sans" font-size="14" fill="#000" text-anchor="middle" font-weight="normal" font-style="normal" >0</text>
<text x="1001.15" y="83.5" font-family="Liberation Sans" font-size="14" fill="#000" text-anchor="middle" font-weight="normal" font-style="normal" >0</text>
<text x="754.2" y="102.3" font-family="Liberation Sans" font-size="14" fill="#000" text-anchor="middle" font-weight="normal" font-style="normal" >0</text>
<text x="833.4" y="102.3" font-family="Liberation Sans" font-size="14" fill="#000" text-anchor="middle" font-weight="normal" font-style="normal" >1</text>
<text x="914.05" y="102.3" font-family="Liberation Sans" font-size="14" fill="#000" text-anchor="middle" font-weight="normal" font-style="normal" >0</text>
<text x="1001.15" y="102.3" font-family="Liberation Sans" font-size="14" fill="#000" text-anchor="middle" font-weight="normal" font-style="normal" >0</text>
<text x="754.2" y="121.1" font-family="Liberation Sans" font-size="14" fill="#000" text-anchor="middle" font-weight="normal" font-style="normal" >1</text>
<text x="833.4" y="121.1" font-family="Liberation Sans" font-size="14" fill="#000" text-anchor="middle" font-weight="normal" font-style="normal" >0</text>
<text x="914.05" y="121.1" font-family="Liberation Sans" font-size="14" fill="#000" text-anchor="middle" font-weight="normal" font-style="normal" >1</text>
<text x="1001.15" y="121.1" font-family="Liberation Sans" font-size="14" fill="#000" text-anchor="middle" font-weight="normal" font-style="normal" >1</text>
<text x="754.2" y="139.8" font-family="Liberation Sans" font-size="13.4" text-anchor="middle">1 (<tspan font-style="italic">t</tspan><tspan font-size="9" font-style="italic" dy="2">1</tspan><tspan dy="-2"> = 0 hr)</tspan></text>
<text x="833.4" y="139.8" font-family="Liberation Sans" font-size="13.4" text-anchor="middle">1 (<tspan font-style="italic">t</tspan><tspan font-size="9" dy="2">2</tspan><tspan dy="-2"> = 2 hr)</tspan></text>
<text x="914.05" y="139.8" font-family="Liberation Sans" font-size="14" fill="#000" text-anchor="middle" font-weight="normal" font-style="normal" >1</text>
<text x="1001.15" y="139.8" font-family="Liberation Sans" font-size="14" fill="#000" text-anchor="middle" font-weight="normal" font-style="normal" >0</text>
<text x="622.6" y="182.2" font-family="Liberation Sans" font-size="34" fill="#000" text-anchor="start" font-weight="normal" font-style="normal" >d</text>
<rect x="886.5" y="162.4" width="161.1" height="129.7" fill="none" stroke="#707070" stroke-width="1.1"/>
<line x1="886.5" y1="292.1" x2="883.5" y2="292.1" stroke="#707070" stroke-width="1" />
<line x1="886.5" y1="270.48" x2="888.7" y2="270.48" stroke="#707070" stroke-width="1" />
<line x1="886.5" y1="248.87" x2="883.5" y2="248.87" stroke="#707070" stroke-width="1" />
<line x1="886.5" y1="227.25" x2="888.7" y2="227.25" stroke="#707070" stroke-width="1" />
<line x1="886.5" y1="205.63" x2="883.5" y2="205.63" stroke="#707070" stroke-width="1" />
<line x1="886.5" y1="184.02" x2="888.7" y2="184.02" stroke="#707070" stroke-width="1" />
<line x1="886.5" y1="162.4" x2="883.5" y2="162.4" stroke="#707070" stroke-width="1" />
<line x1="1047.6" y1="279.13" x2="1045.4" y2="279.13" stroke="#707070" stroke-width="1" />
<line x1="902.61" y1="162.4" x2="902.61" y2="164.6" stroke="#707070" stroke-width="1" />
<line x1="1047.6" y1="266.16" x2="1045.4" y2="266.16" stroke="#707070" stroke-width="1" />
<line x1="918.72" y1="162.4" x2="918.72" y2="164.6" stroke="#707070" stroke-width="1" />
<line x1="1047.6" y1="253.19" x2="1045.4" y2="253.19" stroke="#707070" stroke-width="1" />
<line x1="934.83" y1="162.4" x2="934.83" y2="164.6" stroke="#707070" stroke-width="1" />
<line x1="1047.6" y1="240.22" x2="1045.4" y2="240.22" stroke="#707070" stroke-width="1" />
<line x1="950.94" y1="162.4" x2="950.94" y2="164.6" stroke="#707070" stroke-width="1" />
<line x1="1047.6" y1="227.25" x2="1045.4" y2="227.25" stroke="#707070" stroke-width="1" />
<line x1="967.05" y1="162.4" x2="967.05" y2="164.6" stroke="#707070" stroke-width="1" />
<line x1="1047.6" y1="214.28" x2="1045.4" y2="214.28" stroke="#707070" stroke-width="1" />
<line x1="983.16" y1="162.4" x2="983.16" y2="164.6" stroke="#707070" stroke-width="1" />
<line x1="1047.6" y1="201.31" x2="1045.4" y2="201.31" stroke="#707070" stroke-width="1" />
<line x1="999.27" y1="162.4" x2="999.27" y2="164.6" stroke="#707070" stroke-width="1" />
<line x1="1047.6" y1="188.34" x2="1045.4" y2="188.34" stroke="#707070" stroke-width="1" />
<line x1="1015.38" y1="162.4" x2="1015.38" y2="164.6" stroke="#707070" stroke-width="1" />
<line x1="1047.6" y1="175.37" x2="1045.4" y2="175.37" stroke="#707070" stroke-width="1" />
<line x1="1031.49" y1="162.4" x2="1031.49" y2="164.6" stroke="#707070" stroke-width="1" />
<line x1="926.77" y1="292.1" x2="926.77" y2="295.1" stroke="#707070" stroke-width="1" />
<line x1="1007.32" y1="292.1" x2="1007.32" y2="295.1" stroke="#707070" stroke-width="1" />
<line x1="967.05" y1="292.1" x2="967.05" y2="289.9" stroke="#707070" stroke-width="1" />
<text x="881.1" y="296.8" font-family="Liberation Sans" font-size="14.6" fill="#000" text-anchor="end" font-weight="normal" font-style="normal" >0</text>
<text x="881.1" y="253.57" font-family="Liberation Sans" font-size="14.6" fill="#000" text-anchor="end" font-weight="normal" font-style="normal" >10</text>
<text x="881.1" y="210.33" font-family="Liberation Sans" font-size="14.6" fill="#000" text-anchor="end" font-weight="normal" font-style="normal" >20</text>
<text x="881.1" y="167.1" font-family="Liberation Sans" font-size="14.6" fill="#000" text-anchor="end" font-weight="normal" font-style="normal" >30</text>
<text transform="translate(855.7,231.85) rotate(-90)" font-family="Liberation Sans" font-size="14" fill="#000" text-anchor="middle">%<tspan font-style="italic">Δ</tspan> PE fluorescence</text>
<text x="800.8" y="189.8" font-family="Liberation Sans" font-size="14.5" fill="#000" text-anchor="start" font-weight="normal" font-style="normal" >i.</text>
<rect x="906.38" y="288.64" width="40.8" height="3.46" fill="#00ec00"/>
<line x1="926.77" y1="286.48" x2="926.77" y2="290.8" stroke="#000" stroke-width="1.1" />
<line x1="924.57" y1="286.48" x2="928.98" y2="286.48" stroke="#000" stroke-width="1.2" />
<line x1="924.57" y1="290.8" x2="928.98" y2="290.8" stroke="#000" stroke-width="1.2" />
<rect x="986.92" y="286.91" width="40.8" height="5.19" fill="#00ec00"/>
<line x1="1007.32" y1="284.53" x2="1007.32" y2="289.29" stroke="#000" stroke-width="1.1" />
<line x1="1005.12" y1="284.53" x2="1009.52" y2="284.53" stroke="#000" stroke-width="1.2" />
<line x1="1005.12" y1="289.29" x2="1009.52" y2="289.29" stroke="#000" stroke-width="1.2" />
<rect x="887.2" y="324.5" width="160.7" height="129.7" fill="none" stroke="#707070" stroke-width="1.1"/>
<line x1="887.2" y1="454.2" x2="884.2" y2="454.2" stroke="#707070" stroke-width="1" />
<line x1="887.2" y1="432.58" x2="889.4" y2="432.58" stroke="#707070" stroke-width="1" />
<line x1="887.2" y1="410.97" x2="884.2" y2="410.97" stroke="#707070" stroke-width="1" />
<line x1="887.2" y1="389.35" x2="889.4" y2="389.35" stroke="#707070" stroke-width="1" />
<line x1="887.2" y1="367.73" x2="884.2" y2="367.73" stroke="#707070" stroke-width="1" />
<line x1="887.2" y1="346.12" x2="889.4" y2="346.12" stroke="#707070" stroke-width="1" />
<line x1="887.2" y1="324.5" x2="884.2" y2="324.5" stroke="#707070" stroke-width="1" />
<line x1="1047.9" y1="441.23" x2="1045.7" y2="441.23" stroke="#707070" stroke-width="1" />
<line x1="903.27" y1="324.5" x2="903.27" y2="326.7" stroke="#707070" stroke-width="1" />
<line x1="1047.9" y1="428.26" x2="1045.7" y2="428.26" stroke="#707070" stroke-width="1" />
<line x1="919.34" y1="324.5" x2="919.34" y2="326.7" stroke="#707070" stroke-width="1" />
<line x1="1047.9" y1="415.29" x2="1045.7" y2="415.29" stroke="#707070" stroke-width="1" />
<line x1="935.41" y1="324.5" x2="935.41" y2="326.7" stroke="#707070" stroke-width="1" />
<line x1="1047.9" y1="402.32" x2="1045.7" y2="402.32" stroke="#707070" stroke-width="1" />
<line x1="951.48" y1="324.5" x2="951.48" y2="326.7" stroke="#707070" stroke-width="1" />
<line x1="1047.9" y1="389.35" x2="1045.7" y2="389.35" stroke="#707070" stroke-width="1" />
<line x1="967.55" y1="324.5" x2="967.55" y2="326.7" stroke="#707070" stroke-width="1" />
<line x1="1047.9" y1="376.38" x2="1045.7" y2="376.38" stroke="#707070" stroke-width="1" />
<line x1="983.62" y1="324.5" x2="983.62" y2="326.7" stroke="#707070" stroke-width="1" />
<line x1="1047.9" y1="363.41" x2="1045.7" y2="363.41" stroke="#707070" stroke-width="1" />
<line x1="999.69" y1="324.5" x2="999.69" y2="326.7" stroke="#707070" stroke-width="1" />
<line x1="1047.9" y1="350.44" x2="1045.7" y2="350.44" stroke="#707070" stroke-width="1" />
<line x1="1015.76" y1="324.5" x2="1015.76" y2="326.7" stroke="#707070" stroke-width="1" />
<line x1="1047.9" y1="337.47" x2="1045.7" y2="337.47" stroke="#707070" stroke-width="1" />
<line x1="1031.83" y1="324.5" x2="1031.83" y2="326.7" stroke="#707070" stroke-width="1" />
<line x1="927.38" y1="454.2" x2="927.38" y2="457.2" stroke="#707070" stroke-width="1" />
<line x1="1007.73" y1="454.2" x2="1007.73" y2="457.2" stroke="#707070" stroke-width="1" />
<line x1="967.55" y1="454.2" x2="967.55" y2="452" stroke="#707070" stroke-width="1" />
<text x="881.8" y="458.9" font-family="Liberation Sans" font-size="14.6" fill="#000" text-anchor="end" font-weight="normal" font-style="normal" >0</text>
<text x="881.8" y="415.67" font-family="Liberation Sans" font-size="14.6" fill="#000" text-anchor="end" font-weight="normal" font-style="normal" >10</text>
<text x="881.8" y="372.43" font-family="Liberation Sans" font-size="14.6" fill="#000" text-anchor="end" font-weight="normal" font-style="normal" >20</text>
<text x="881.8" y="329.2" font-family="Liberation Sans" font-size="14.6" fill="#000" text-anchor="end" font-weight="normal" font-style="normal" >30</text>
<text transform="translate(856.4,393.95) rotate(-90)" font-family="Liberation Sans" font-size="14" fill="#000" text-anchor="middle">%<tspan font-style="italic">Δ</tspan> PE fluorescence</text>
<text x="800.8" y="341.6" font-family="Liberation Sans" font-size="14.5" fill="#000" text-anchor="start" font-weight="normal" font-style="normal" >ii.</text>
<rect x="906.98" y="453.55" width="40.8" height="0.65" fill="#00ec00"/>
<line x1="927.38" y1="452.25" x2="927.38" y2="454.2" stroke="#000" stroke-width="1.1" />
<line x1="925.17" y1="452.25" x2="929.58" y2="452.25" stroke="#000" stroke-width="1.2" />
<line x1="925.17" y1="454.2" x2="929.58" y2="454.2" stroke="#000" stroke-width="1.2" />
<rect x="987.33" y="451.61" width="40.8" height="2.59" fill="#00ec00"/>
<line x1="1007.73" y1="449.01" x2="1007.73" y2="454.2" stroke="#000" stroke-width="1.1" />
<line x1="1005.53" y1="449.01" x2="1009.93" y2="449.01" stroke="#000" stroke-width="1.2" />
<line x1="1005.53" y1="454.2" x2="1009.93" y2="454.2" stroke="#000" stroke-width="1.2" />
<rect x="888.1" y="483.3" width="160.9" height="129.8" fill="none" stroke="#707070" stroke-width="1.1"/>
<line x1="888.1" y1="613.1" x2="885.1" y2="613.1" stroke="#707070" stroke-width="1" />
<line x1="888.1" y1="591.47" x2="890.3" y2="591.47" stroke="#707070" stroke-width="1" />
<line x1="888.1" y1="569.83" x2="885.1" y2="569.83" stroke="#707070" stroke-width="1" />
<line x1="888.1" y1="548.2" x2="890.3" y2="548.2" stroke="#707070" stroke-width="1" />
<line x1="888.1" y1="526.57" x2="885.1" y2="526.57" stroke="#707070" stroke-width="1" />
<line x1="888.1" y1="504.93" x2="890.3" y2="504.93" stroke="#707070" stroke-width="1" />
<line x1="888.1" y1="483.3" x2="885.1" y2="483.3" stroke="#707070" stroke-width="1" />
<line x1="1049" y1="600.12" x2="1046.8" y2="600.12" stroke="#707070" stroke-width="1" />
<line x1="904.19" y1="483.3" x2="904.19" y2="485.5" stroke="#707070" stroke-width="1" />
<line x1="1049" y1="587.14" x2="1046.8" y2="587.14" stroke="#707070" stroke-width="1" />
<line x1="920.28" y1="483.3" x2="920.28" y2="485.5" stroke="#707070" stroke-width="1" />
<line x1="1049" y1="574.16" x2="1046.8" y2="574.16" stroke="#707070" stroke-width="1" />
<line x1="936.37" y1="483.3" x2="936.37" y2="485.5" stroke="#707070" stroke-width="1" />
<line x1="1049" y1="561.18" x2="1046.8" y2="561.18" stroke="#707070" stroke-width="1" />
<line x1="952.46" y1="483.3" x2="952.46" y2="485.5" stroke="#707070" stroke-width="1" />
<line x1="1049" y1="548.2" x2="1046.8" y2="548.2" stroke="#707070" stroke-width="1" />
<line x1="968.55" y1="483.3" x2="968.55" y2="485.5" stroke="#707070" stroke-width="1" />
<line x1="1049" y1="535.22" x2="1046.8" y2="535.22" stroke="#707070" stroke-width="1" />
<line x1="984.64" y1="483.3" x2="984.64" y2="485.5" stroke="#707070" stroke-width="1" />
<line x1="1049" y1="522.24" x2="1046.8" y2="522.24" stroke="#707070" stroke-width="1" />
<line x1="1000.73" y1="483.3" x2="1000.73" y2="485.5" stroke="#707070" stroke-width="1" />
<line x1="1049" y1="509.26" x2="1046.8" y2="509.26" stroke="#707070" stroke-width="1" />
<line x1="1016.82" y1="483.3" x2="1016.82" y2="485.5" stroke="#707070" stroke-width="1" />
<line x1="1049" y1="496.28" x2="1046.8" y2="496.28" stroke="#707070" stroke-width="1" />
<line x1="1032.91" y1="483.3" x2="1032.91" y2="485.5" stroke="#707070" stroke-width="1" />
<line x1="928.33" y1="613.1" x2="928.33" y2="616.1" stroke="#707070" stroke-width="1" />
<line x1="1008.77" y1="613.1" x2="1008.77" y2="616.1" stroke="#707070" stroke-width="1" />
<line x1="968.55" y1="613.1" x2="968.55" y2="610.9" stroke="#707070" stroke-width="1" />
<text x="882.7" y="617.8" font-family="Liberation Sans" font-size="14.6" fill="#000" text-anchor="end" font-weight="normal" font-style="normal" >0</text>
<text x="882.7" y="574.53" font-family="Liberation Sans" font-size="14.6" fill="#000" text-anchor="end" font-weight="normal" font-style="normal" >10</text>
<text x="882.7" y="531.27" font-family="Liberation Sans" font-size="14.6" fill="#000" text-anchor="end" font-weight="normal" font-style="normal" >20</text>
<text x="882.7" y="488" font-family="Liberation Sans" font-size="14.6" fill="#000" text-anchor="end" font-weight="normal" font-style="normal" >30</text>
<text transform="translate(857.3,552.8) rotate(-90)" font-family="Liberation Sans" font-size="14" fill="#000" text-anchor="middle">%<tspan font-style="italic">Δ</tspan> PE fluorescence</text>
<text x="800.8" y="497.8" font-family="Liberation Sans" font-size="14.5" fill="#000" text-anchor="start" font-weight="normal" font-style="normal" >iii.</text>
<rect x="907.93" y="525.27" width="40.8" height="87.83" fill="#00ec00"/>
<line x1="928.33" y1="523.11" x2="928.33" y2="527.43" stroke="#000" stroke-width="1.1" />
<line x1="926.12" y1="523.11" x2="930.53" y2="523.11" stroke="#000" stroke-width="1.2" />
<line x1="926.12" y1="527.43" x2="930.53" y2="527.43" stroke="#000" stroke-width="1.2" />
<rect x="988.38" y="503.2" width="40.8" height="109.9" fill="#00ec00"/>
<line x1="1008.77" y1="501.26" x2="1008.77" y2="505.15" stroke="#000" stroke-width="1.1" />
<line x1="1006.57" y1="501.26" x2="1010.98" y2="501.26" stroke="#000" stroke-width="1.2" />
<line x1="1006.57" y1="505.15" x2="1010.98" y2="505.15" stroke="#000" stroke-width="1.2" />
<rect x="888.2" y="639.8" width="160.8" height="129.6" fill="none" stroke="#707070" stroke-width="1.1"/>
<line x1="888.2" y1="769.4" x2="885.2" y2="769.4" stroke="#707070" stroke-width="1" />
<line x1="888.2" y1="747.8" x2="890.4" y2="747.8" stroke="#707070" stroke-width="1" />
<line x1="888.2" y1="726.2" x2="885.2" y2="726.2" stroke="#707070" stroke-width="1" />
<line x1="888.2" y1="704.6" x2="890.4" y2="704.6" stroke="#707070" stroke-width="1" />
<line x1="888.2" y1="683" x2="885.2" y2="683" stroke="#707070" stroke-width="1" />
<line x1="888.2" y1="661.4" x2="890.4" y2="661.4" stroke="#707070" stroke-width="1" />
<line x1="888.2" y1="639.8" x2="885.2" y2="639.8" stroke="#707070" stroke-width="1" />
<line x1="1049" y1="756.44" x2="1046.8" y2="756.44" stroke="#707070" stroke-width="1" />
<line x1="904.28" y1="639.8" x2="904.28" y2="642" stroke="#707070" stroke-width="1" />
<line x1="1049" y1="743.48" x2="1046.8" y2="743.48" stroke="#707070" stroke-width="1" />
<line x1="920.36" y1="639.8" x2="920.36" y2="642" stroke="#707070" stroke-width="1" />
<line x1="1049" y1="730.52" x2="1046.8" y2="730.52" stroke="#707070" stroke-width="1" />
<line x1="936.44" y1="639.8" x2="936.44" y2="642" stroke="#707070" stroke-width="1" />
<line x1="1049" y1="717.56" x2="1046.8" y2="717.56" stroke="#707070" stroke-width="1" />
<line x1="952.52" y1="639.8" x2="952.52" y2="642" stroke="#707070" stroke-width="1" />
<line x1="1049" y1="704.6" x2="1046.8" y2="704.6" stroke="#707070" stroke-width="1" />
<line x1="968.6" y1="639.8" x2="968.6" y2="642" stroke="#707070" stroke-width="1" />
<line x1="1049" y1="691.64" x2="1046.8" y2="691.64" stroke="#707070" stroke-width="1" />
<line x1="984.68" y1="639.8" x2="984.68" y2="642" stroke="#707070" stroke-width="1" />
<line x1="1049" y1="678.68" x2="1046.8" y2="678.68" stroke="#707070" stroke-width="1" />
<line x1="1000.76" y1="639.8" x2="1000.76" y2="642" stroke="#707070" stroke-width="1" />
<line x1="1049" y1="665.72" x2="1046.8" y2="665.72" stroke="#707070" stroke-width="1" />
<line x1="1016.84" y1="639.8" x2="1016.84" y2="642" stroke="#707070" stroke-width="1" />
<line x1="1049" y1="652.76" x2="1046.8" y2="652.76" stroke="#707070" stroke-width="1" />
<line x1="1032.92" y1="639.8" x2="1032.92" y2="642" stroke="#707070" stroke-width="1" />
<line x1="928.4" y1="769.4" x2="928.4" y2="772.4" stroke="#707070" stroke-width="1" />
<line x1="1008.8" y1="769.4" x2="1008.8" y2="772.4" stroke="#707070" stroke-width="1" />
<line x1="968.6" y1="769.4" x2="968.6" y2="767.2" stroke="#707070" stroke-width="1" />
<text x="882.8" y="774.1" font-family="Liberation Sans" font-size="14.6" fill="#000" text-anchor="end" font-weight="normal" font-style="normal" >0</text>
<text x="882.8" y="730.9" font-family="Liberation Sans" font-size="14.6" fill="#000" text-anchor="end" font-weight="normal" font-style="normal" >10</text>
<text x="882.8" y="687.7" font-family="Liberation Sans" font-size="14.6" fill="#000" text-anchor="end" font-weight="normal" font-style="normal" >20</text>
<text x="882.8" y="644.5" font-family="Liberation Sans" font-size="14.6" fill="#000" text-anchor="end" font-weight="normal" font-style="normal" >30</text>
<text transform="translate(857.4,709.2) rotate(-90)" font-family="Liberation Sans" font-size="14" fill="#000" text-anchor="middle">%<tspan font-style="italic">Δ</tspan> PE fluorescence</text>
<text x="800.8" y="659.2" font-family="Liberation Sans" font-size="14.5" fill="#000" text-anchor="start" font-weight="normal" font-style="normal" >iv.</text>
<rect x="908" y="705.9" width="40.8" height="63.5" fill="#00ec00"/>
<line x1="928.4" y1="703.95" x2="928.4" y2="707.84" stroke="#000" stroke-width="1.1" />
<line x1="926.2" y1="703.95" x2="930.6" y2="703.95" stroke="#000" stroke-width="1.2" />
<line x1="926.2" y1="707.84" x2="930.6" y2="707.84" stroke="#000" stroke-width="1.2" />
<rect x="988.4" y="767.24" width="40.8" height="2.16" fill="#00ec00"/>
<line x1="1008.8" y1="764.43" x2="1008.8" y2="769.4" stroke="#000" stroke-width="1.1" />
<line x1="1006.6" y1="764.43" x2="1011" y2="764.43" stroke="#000" stroke-width="1.2" />
<line x1="1006.6" y1="769.4" x2="1011" y2="769.4" stroke="#000" stroke-width="1.2" />
<text x="928.6" y="790.2" font-family="Liberation Sans" font-size="14" fill="#000" text-anchor="middle" font-weight="normal" font-style="normal" >IP-10</text>
<text x="1009.1" y="790.2" font-family="Liberation Sans" font-size="14" fill="#000" text-anchor="middle" font-weight="normal" font-style="normal" >RANTES</text>
</svg>
</body></html>
